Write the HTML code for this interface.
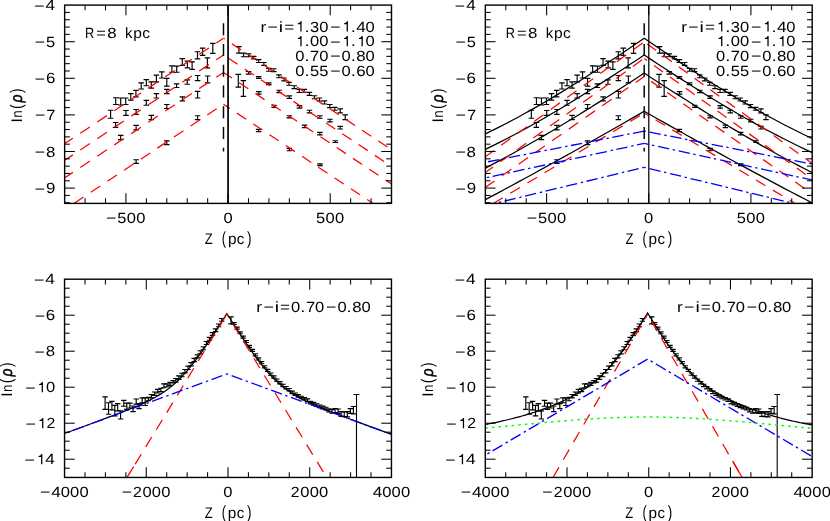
<!DOCTYPE html>
<html><head><meta charset="utf-8"><title>fig</title><style>html,body{margin:0;padding:0;background:#fff}svg{display:block;will-change:transform;transform:translateZ(0)}text{font-family:"Liberation Sans",sans-serif;fill:#000}</style></head><body>
<svg width="830" height="521" viewBox="0 0 830 521" style="display:block;background:#fff" text-rendering="geometricPrecision">
<rect width="830" height="521" fill="#fff"/>
<defs>
<clipPath id="cp1"><rect x="64.65" y="5.10" width="326.85" height="198.30"/></clipPath>
<clipPath id="cp2"><rect x="485.35" y="5.10" width="326.85" height="198.30"/></clipPath>
<clipPath id="cp3"><rect x="64.55" y="279.20" width="326.90" height="198.25"/></clipPath>
<clipPath id="cp4"><rect x="485.30" y="279.20" width="326.85" height="198.25"/></clipPath>
</defs>
<path d="M107.85,110.20H113.35M107.85,118.20H113.35M110.60,110.20V118.20" fill="none" stroke="#000" stroke-width="1.15"/>
<path d="M112.95,97.70H118.45M112.95,104.50H118.45M115.70,97.70V104.50" fill="none" stroke="#000" stroke-width="1.15"/>
<path d="M117.95,98.00H123.45M117.95,105.00H123.45M120.70,98.00V105.00" fill="none" stroke="#000" stroke-width="1.15"/>
<path d="M122.95,98.00H128.45M122.95,104.50H128.45M125.70,98.00V104.50" fill="none" stroke="#000" stroke-width="1.15"/>
<path d="M128.05,93.60H133.55M128.05,100.10H133.55M130.80,93.60V100.10" fill="none" stroke="#000" stroke-width="1.15"/>
<path d="M133.15,90.40H138.65M133.15,96.80H138.65M135.90,90.40V96.80" fill="none" stroke="#000" stroke-width="1.15"/>
<path d="M138.45,82.80H143.95M138.45,89.00H143.95M141.20,82.80V89.00" fill="none" stroke="#000" stroke-width="1.15"/>
<path d="M143.55,79.60H149.05M143.55,85.70H149.05M146.30,79.60V85.70" fill="none" stroke="#000" stroke-width="1.15"/>
<path d="M148.55,81.80H154.05M148.55,88.10H154.05M151.30,81.80V88.10" fill="none" stroke="#000" stroke-width="1.15"/>
<path d="M153.65,75.10H159.15M153.65,81.80H159.15M156.40,75.10V81.80" fill="none" stroke="#000" stroke-width="1.15"/>
<path d="M159.05,71.90H164.55M159.05,78.00H164.55M161.80,71.90V78.00" fill="none" stroke="#000" stroke-width="1.15"/>
<path d="M164.05,78.40H169.55M164.05,86.10H169.55M166.80,78.40V86.10" fill="none" stroke="#000" stroke-width="1.15"/>
<path d="M169.15,65.90H174.65M169.15,72.20H174.65M171.90,65.90V72.20" fill="none" stroke="#000" stroke-width="1.15"/>
<path d="M173.95,66.10H179.45M173.95,72.20H179.45M176.70,66.10V72.20" fill="none" stroke="#000" stroke-width="1.15"/>
<path d="M179.55,58.60H185.05M179.55,65.40H185.05M182.30,58.60V65.40" fill="none" stroke="#000" stroke-width="1.15"/>
<path d="M184.65,61.10H190.15M184.65,67.90H190.15M187.40,61.10V67.90" fill="none" stroke="#000" stroke-width="1.15"/>
<path d="M189.35,61.80H194.85M189.35,69.30H194.85M192.10,61.80V69.30" fill="none" stroke="#000" stroke-width="1.15"/>
<path d="M194.75,51.70H200.25M194.75,58.90H200.25M197.50,51.70V58.90" fill="none" stroke="#000" stroke-width="1.15"/>
<path d="M199.85,48.10H205.35M199.85,55.30H205.35M202.60,48.10V55.30" fill="none" stroke="#000" stroke-width="1.15"/>
<path d="M204.65,57.80H210.15M204.65,67.90H210.15M207.40,57.80V67.90" fill="none" stroke="#000" stroke-width="1.15"/>
<path d="M210.05,43.30H215.55M210.05,53.40H215.55M212.80,43.30V53.40" fill="none" stroke="#000" stroke-width="1.15"/>
<path d="M112.85,122.50H118.35M112.85,127.30H118.35M115.60,122.50V127.30" fill="none" stroke="#000" stroke-width="1.15"/>
<path d="M123.25,110.50H128.75M123.25,115.30H128.75M126.00,110.50V115.30" fill="none" stroke="#000" stroke-width="1.15"/>
<path d="M133.35,109.50H138.85M133.35,114.30H138.85M136.10,109.50V114.30" fill="none" stroke="#000" stroke-width="1.15"/>
<path d="M143.55,100.40H149.05M143.55,105.20H149.05M146.30,100.40V105.20" fill="none" stroke="#000" stroke-width="1.15"/>
<path d="M153.65,93.60H159.15M153.65,98.00H159.15M156.40,93.60V98.00" fill="none" stroke="#000" stroke-width="1.15"/>
<path d="M164.05,89.30H169.55M164.05,93.60H169.55M166.80,89.30V93.60" fill="none" stroke="#000" stroke-width="1.15"/>
<path d="M173.85,83.80H179.35M173.85,87.50H179.35M176.60,83.80V87.50" fill="none" stroke="#000" stroke-width="1.15"/>
<path d="M184.45,79.90H189.95M184.45,84.20H189.95M187.20,79.90V84.20" fill="none" stroke="#000" stroke-width="1.15"/>
<path d="M194.85,75.50H200.35M194.85,80.60H200.35M197.60,75.50V80.60" fill="none" stroke="#000" stroke-width="1.15"/>
<path d="M204.85,76.00H210.35M204.85,82.80H210.35M207.60,76.00V82.80" fill="none" stroke="#000" stroke-width="1.15"/>
<path d="M117.95,135.30H123.45M117.95,139.60H123.45M120.70,135.30V139.60" fill="none" stroke="#000" stroke-width="1.15"/>
<path d="M133.35,125.40H138.85M133.35,129.80H138.85M136.10,125.40V129.80" fill="none" stroke="#000" stroke-width="1.15"/>
<path d="M148.55,115.30H154.05M148.55,119.60H154.05M151.30,115.30V119.60" fill="none" stroke="#000" stroke-width="1.15"/>
<path d="M164.05,104.50H169.55M164.05,108.50H169.55M166.80,104.50V108.50" fill="none" stroke="#000" stroke-width="1.15"/>
<path d="M179.65,96.90H185.15M179.65,100.80H185.15M182.40,96.90V100.80" fill="none" stroke="#000" stroke-width="1.15"/>
<path d="M194.85,91.40H200.35M194.85,98.00H200.35M197.60,91.40V98.00" fill="none" stroke="#000" stroke-width="1.15"/>
<path d="M133.35,159.70H138.85M133.35,163.40H138.85M136.10,159.70V163.40" fill="none" stroke="#000" stroke-width="1.15"/>
<path d="M164.05,140.90H169.55M164.05,144.60H169.55M166.80,140.90V144.60" fill="none" stroke="#000" stroke-width="1.15"/>
<path d="M194.85,115.70H200.35M194.85,119.60H200.35M197.60,115.70V119.60" fill="none" stroke="#000" stroke-width="1.15"/>
<path d="M236.15,46.60H241.65M236.15,53.10H241.65M238.90,46.60V53.10" fill="none" stroke="#000" stroke-width="1.15"/>
<path d="M240.85,53.10H246.35M240.85,56.70H246.35M243.60,53.10V56.70" fill="none" stroke="#000" stroke-width="1.15"/>
<path d="M245.75,53.90H251.25M245.75,56.70H251.25M248.50,53.90V56.70" fill="none" stroke="#000" stroke-width="1.15"/>
<path d="M250.95,56.30H256.45M250.95,58.90H256.45M253.70,56.30V58.90" fill="none" stroke="#000" stroke-width="1.15"/>
<path d="M255.95,59.60H261.45M255.95,62.50H261.45M258.70,59.60V62.50" fill="none" stroke="#000" stroke-width="1.15"/>
<path d="M261.15,62.50H266.65M261.15,65.40H266.65M263.90,62.50V65.40" fill="none" stroke="#000" stroke-width="1.15"/>
<path d="M266.05,68.30H271.55M266.05,71.20H271.55M268.80,68.30V71.20" fill="none" stroke="#000" stroke-width="1.15"/>
<path d="M271.05,68.70H276.55M271.05,71.60H276.55M273.80,68.70V71.60" fill="none" stroke="#000" stroke-width="1.15"/>
<path d="M276.15,74.80H281.65M276.15,77.70H281.65M278.90,74.80V77.70" fill="none" stroke="#000" stroke-width="1.15"/>
<path d="M281.25,78.00H286.75M281.25,80.90H286.75M284.00,78.00V80.90" fill="none" stroke="#000" stroke-width="1.15"/>
<path d="M286.25,82.30H291.75M286.25,85.20H291.75M289.00,82.30V85.20" fill="none" stroke="#000" stroke-width="1.15"/>
<path d="M291.45,85.70H296.95M291.45,88.60H296.95M294.20,85.70V88.60" fill="none" stroke="#000" stroke-width="1.15"/>
<path d="M296.55,89.30H302.05M296.55,92.50H302.05M299.30,89.30V92.50" fill="none" stroke="#000" stroke-width="1.15"/>
<path d="M301.45,89.30H306.95M301.45,92.20H306.95M304.20,89.30V92.20" fill="none" stroke="#000" stroke-width="1.15"/>
<path d="M306.65,92.40H312.15M306.65,95.40H312.15M309.40,92.40V95.40" fill="none" stroke="#000" stroke-width="1.15"/>
<path d="M311.75,95.70H317.25M311.75,98.70H317.25M314.50,95.70V98.70" fill="none" stroke="#000" stroke-width="1.15"/>
<path d="M316.75,98.00H322.25M316.75,101.00H322.25M319.50,98.00V101.00" fill="none" stroke="#000" stroke-width="1.15"/>
<path d="M321.75,100.80H327.25M321.75,104.00H327.25M324.50,100.80V104.00" fill="none" stroke="#000" stroke-width="1.15"/>
<path d="M327.05,104.50H332.55M327.05,107.60H332.55M329.80,104.50V107.60" fill="none" stroke="#000" stroke-width="1.15"/>
<path d="M332.05,107.30H337.55M332.05,110.20H337.55M334.80,107.30V110.20" fill="none" stroke="#000" stroke-width="1.15"/>
<path d="M337.45,108.80H342.95M337.45,112.80H342.95M340.20,108.80V112.80" fill="none" stroke="#000" stroke-width="1.15"/>
<path d="M342.45,114.90H347.95M342.45,119.60H347.95M345.20,114.90V119.60" fill="none" stroke="#000" stroke-width="1.15"/>
<path d="M235.55,74.30H241.05M235.55,87.10H241.05M238.30,74.30V87.10" fill="none" stroke="#000" stroke-width="1.15"/>
<path d="M240.65,80.60H246.15M240.65,96.30H246.15M243.40,80.60V96.30" fill="none" stroke="#000" stroke-width="1.15"/>
<path d="M245.75,71.50H251.25M245.75,74.10H251.25M248.50,71.50V74.10" fill="none" stroke="#000" stroke-width="1.15"/>
<path d="M255.95,76.60H261.45M255.95,78.40H261.45M258.70,76.60V78.40" fill="none" stroke="#000" stroke-width="1.15"/>
<path d="M266.05,82.80H271.55M266.05,84.60H271.55M268.80,82.80V84.60" fill="none" stroke="#000" stroke-width="1.15"/>
<path d="M276.35,90.20H281.85M276.35,92.60H281.85M279.10,90.20V92.60" fill="none" stroke="#000" stroke-width="1.15"/>
<path d="M286.55,95.80H292.05M286.55,98.40H292.05M289.30,95.80V98.40" fill="none" stroke="#000" stroke-width="1.15"/>
<path d="M296.65,105.60H302.15M296.65,108.10H302.15M299.40,105.60V108.10" fill="none" stroke="#000" stroke-width="1.15"/>
<path d="M306.75,110.20H312.25M306.75,112.80H312.25M309.50,110.20V112.80" fill="none" stroke="#000" stroke-width="1.15"/>
<path d="M317.15,115.70H322.65M317.15,118.20H322.65M319.90,115.70V118.20" fill="none" stroke="#000" stroke-width="1.15"/>
<path d="M327.25,119.20H332.75M327.25,121.80H332.75M330.00,119.20V121.80" fill="none" stroke="#000" stroke-width="1.15"/>
<path d="M337.45,126.40H342.95M337.45,129.00H342.95M340.20,126.40V129.00" fill="none" stroke="#000" stroke-width="1.15"/>
<path d="M256.05,91.60H261.55M256.05,94.10H261.55M258.80,91.60V94.10" fill="none" stroke="#000" stroke-width="1.15"/>
<path d="M271.35,105.20H276.85M271.35,107.30H276.85M274.10,105.20V107.30" fill="none" stroke="#000" stroke-width="1.15"/>
<path d="M286.55,115.70H292.05M286.55,117.90H292.05M289.30,115.70V117.90" fill="none" stroke="#000" stroke-width="1.15"/>
<path d="M301.85,125.10H307.35M301.85,127.60H307.35M304.60,125.10V127.60" fill="none" stroke="#000" stroke-width="1.15"/>
<path d="M317.15,132.40H322.65M317.15,134.80H322.65M319.90,132.40V134.80" fill="none" stroke="#000" stroke-width="1.15"/>
<path d="M332.55,140.70H338.05M332.55,142.50H338.05M335.30,140.70V142.50" fill="none" stroke="#000" stroke-width="1.15"/>
<path d="M255.85,129.30H261.35M255.85,131.60H261.35M258.60,129.30V131.60" fill="none" stroke="#000" stroke-width="1.15"/>
<path d="M286.55,148.30H292.05M286.55,150.70H292.05M289.30,148.30V150.70" fill="none" stroke="#000" stroke-width="1.15"/>
<path d="M317.25,163.80H322.75M317.25,165.60H322.75M320.00,163.80V165.60" fill="none" stroke="#000" stroke-width="1.15"/>
<path d="M528.60,110.20H534.10M528.60,118.20H534.10M531.35,110.20V118.20" fill="none" stroke="#000" stroke-width="1.15"/>
<path d="M533.70,97.70H539.20M533.70,104.50H539.20M536.45,97.70V104.50" fill="none" stroke="#000" stroke-width="1.15"/>
<path d="M538.70,98.00H544.20M538.70,105.00H544.20M541.45,98.00V105.00" fill="none" stroke="#000" stroke-width="1.15"/>
<path d="M543.70,98.00H549.20M543.70,104.50H549.20M546.45,98.00V104.50" fill="none" stroke="#000" stroke-width="1.15"/>
<path d="M548.80,93.60H554.30M548.80,100.10H554.30M551.55,93.60V100.10" fill="none" stroke="#000" stroke-width="1.15"/>
<path d="M553.90,90.40H559.40M553.90,96.80H559.40M556.65,90.40V96.80" fill="none" stroke="#000" stroke-width="1.15"/>
<path d="M559.20,82.80H564.70M559.20,89.00H564.70M561.95,82.80V89.00" fill="none" stroke="#000" stroke-width="1.15"/>
<path d="M564.30,79.60H569.80M564.30,85.70H569.80M567.05,79.60V85.70" fill="none" stroke="#000" stroke-width="1.15"/>
<path d="M569.30,81.80H574.80M569.30,88.10H574.80M572.05,81.80V88.10" fill="none" stroke="#000" stroke-width="1.15"/>
<path d="M574.40,75.10H579.90M574.40,81.80H579.90M577.15,75.10V81.80" fill="none" stroke="#000" stroke-width="1.15"/>
<path d="M579.80,71.90H585.30M579.80,78.00H585.30M582.55,71.90V78.00" fill="none" stroke="#000" stroke-width="1.15"/>
<path d="M584.80,78.40H590.30M584.80,86.10H590.30M587.55,78.40V86.10" fill="none" stroke="#000" stroke-width="1.15"/>
<path d="M589.90,65.90H595.40M589.90,72.20H595.40M592.65,65.90V72.20" fill="none" stroke="#000" stroke-width="1.15"/>
<path d="M594.70,66.10H600.20M594.70,72.20H600.20M597.45,66.10V72.20" fill="none" stroke="#000" stroke-width="1.15"/>
<path d="M600.30,58.60H605.80M600.30,65.40H605.80M603.05,58.60V65.40" fill="none" stroke="#000" stroke-width="1.15"/>
<path d="M605.40,61.10H610.90M605.40,67.90H610.90M608.15,61.10V67.90" fill="none" stroke="#000" stroke-width="1.15"/>
<path d="M610.10,61.80H615.60M610.10,69.30H615.60M612.85,61.80V69.30" fill="none" stroke="#000" stroke-width="1.15"/>
<path d="M615.50,51.70H621.00M615.50,58.90H621.00M618.25,51.70V58.90" fill="none" stroke="#000" stroke-width="1.15"/>
<path d="M620.60,48.10H626.10M620.60,55.30H626.10M623.35,48.10V55.30" fill="none" stroke="#000" stroke-width="1.15"/>
<path d="M625.40,57.80H630.90M625.40,67.90H630.90M628.15,57.80V67.90" fill="none" stroke="#000" stroke-width="1.15"/>
<path d="M630.80,43.30H636.30M630.80,53.40H636.30M633.55,43.30V53.40" fill="none" stroke="#000" stroke-width="1.15"/>
<path d="M533.60,122.50H539.10M533.60,127.30H539.10M536.35,122.50V127.30" fill="none" stroke="#000" stroke-width="1.15"/>
<path d="M544.00,110.50H549.50M544.00,115.30H549.50M546.75,110.50V115.30" fill="none" stroke="#000" stroke-width="1.15"/>
<path d="M554.10,109.50H559.60M554.10,114.30H559.60M556.85,109.50V114.30" fill="none" stroke="#000" stroke-width="1.15"/>
<path d="M564.30,100.40H569.80M564.30,105.20H569.80M567.05,100.40V105.20" fill="none" stroke="#000" stroke-width="1.15"/>
<path d="M574.40,93.60H579.90M574.40,98.00H579.90M577.15,93.60V98.00" fill="none" stroke="#000" stroke-width="1.15"/>
<path d="M584.80,89.30H590.30M584.80,93.60H590.30M587.55,89.30V93.60" fill="none" stroke="#000" stroke-width="1.15"/>
<path d="M594.60,83.80H600.10M594.60,87.50H600.10M597.35,83.80V87.50" fill="none" stroke="#000" stroke-width="1.15"/>
<path d="M605.20,79.90H610.70M605.20,84.20H610.70M607.95,79.90V84.20" fill="none" stroke="#000" stroke-width="1.15"/>
<path d="M615.60,75.50H621.10M615.60,80.60H621.10M618.35,75.50V80.60" fill="none" stroke="#000" stroke-width="1.15"/>
<path d="M625.60,76.00H631.10M625.60,82.80H631.10M628.35,76.00V82.80" fill="none" stroke="#000" stroke-width="1.15"/>
<path d="M538.70,135.30H544.20M538.70,139.60H544.20M541.45,135.30V139.60" fill="none" stroke="#000" stroke-width="1.15"/>
<path d="M554.10,125.40H559.60M554.10,129.80H559.60M556.85,125.40V129.80" fill="none" stroke="#000" stroke-width="1.15"/>
<path d="M569.30,115.30H574.80M569.30,119.60H574.80M572.05,115.30V119.60" fill="none" stroke="#000" stroke-width="1.15"/>
<path d="M584.80,104.50H590.30M584.80,108.50H590.30M587.55,104.50V108.50" fill="none" stroke="#000" stroke-width="1.15"/>
<path d="M600.40,96.90H605.90M600.40,100.80H605.90M603.15,96.90V100.80" fill="none" stroke="#000" stroke-width="1.15"/>
<path d="M615.60,91.40H621.10M615.60,98.00H621.10M618.35,91.40V98.00" fill="none" stroke="#000" stroke-width="1.15"/>
<path d="M554.10,159.70H559.60M554.10,163.40H559.60M556.85,159.70V163.40" fill="none" stroke="#000" stroke-width="1.15"/>
<path d="M584.80,140.90H590.30M584.80,144.60H590.30M587.55,140.90V144.60" fill="none" stroke="#000" stroke-width="1.15"/>
<path d="M615.60,115.70H621.10M615.60,119.60H621.10M618.35,115.70V119.60" fill="none" stroke="#000" stroke-width="1.15"/>
<path d="M656.90,46.60H662.40M656.90,53.10H662.40M659.65,46.60V53.10" fill="none" stroke="#000" stroke-width="1.15"/>
<path d="M661.60,53.10H667.10M661.60,56.70H667.10M664.35,53.10V56.70" fill="none" stroke="#000" stroke-width="1.15"/>
<path d="M666.50,53.90H672.00M666.50,56.70H672.00M669.25,53.90V56.70" fill="none" stroke="#000" stroke-width="1.15"/>
<path d="M671.70,56.30H677.20M671.70,58.90H677.20M674.45,56.30V58.90" fill="none" stroke="#000" stroke-width="1.15"/>
<path d="M676.70,59.60H682.20M676.70,62.50H682.20M679.45,59.60V62.50" fill="none" stroke="#000" stroke-width="1.15"/>
<path d="M681.90,62.50H687.40M681.90,65.40H687.40M684.65,62.50V65.40" fill="none" stroke="#000" stroke-width="1.15"/>
<path d="M686.80,68.30H692.30M686.80,71.20H692.30M689.55,68.30V71.20" fill="none" stroke="#000" stroke-width="1.15"/>
<path d="M691.80,68.70H697.30M691.80,71.60H697.30M694.55,68.70V71.60" fill="none" stroke="#000" stroke-width="1.15"/>
<path d="M696.90,74.80H702.40M696.90,77.70H702.40M699.65,74.80V77.70" fill="none" stroke="#000" stroke-width="1.15"/>
<path d="M702.00,78.00H707.50M702.00,80.90H707.50M704.75,78.00V80.90" fill="none" stroke="#000" stroke-width="1.15"/>
<path d="M707.00,82.30H712.50M707.00,85.20H712.50M709.75,82.30V85.20" fill="none" stroke="#000" stroke-width="1.15"/>
<path d="M712.20,85.70H717.70M712.20,88.60H717.70M714.95,85.70V88.60" fill="none" stroke="#000" stroke-width="1.15"/>
<path d="M717.30,89.30H722.80M717.30,92.50H722.80M720.05,89.30V92.50" fill="none" stroke="#000" stroke-width="1.15"/>
<path d="M722.20,89.30H727.70M722.20,92.20H727.70M724.95,89.30V92.20" fill="none" stroke="#000" stroke-width="1.15"/>
<path d="M727.40,92.40H732.90M727.40,95.40H732.90M730.15,92.40V95.40" fill="none" stroke="#000" stroke-width="1.15"/>
<path d="M732.50,95.70H738.00M732.50,98.70H738.00M735.25,95.70V98.70" fill="none" stroke="#000" stroke-width="1.15"/>
<path d="M737.50,98.00H743.00M737.50,101.00H743.00M740.25,98.00V101.00" fill="none" stroke="#000" stroke-width="1.15"/>
<path d="M742.50,100.80H748.00M742.50,104.00H748.00M745.25,100.80V104.00" fill="none" stroke="#000" stroke-width="1.15"/>
<path d="M747.80,104.50H753.30M747.80,107.60H753.30M750.55,104.50V107.60" fill="none" stroke="#000" stroke-width="1.15"/>
<path d="M752.80,107.30H758.30M752.80,110.20H758.30M755.55,107.30V110.20" fill="none" stroke="#000" stroke-width="1.15"/>
<path d="M758.20,108.80H763.70M758.20,112.80H763.70M760.95,108.80V112.80" fill="none" stroke="#000" stroke-width="1.15"/>
<path d="M763.20,114.90H768.70M763.20,119.60H768.70M765.95,114.90V119.60" fill="none" stroke="#000" stroke-width="1.15"/>
<path d="M656.30,74.30H661.80M656.30,87.10H661.80M659.05,74.30V87.10" fill="none" stroke="#000" stroke-width="1.15"/>
<path d="M661.40,80.60H666.90M661.40,96.30H666.90M664.15,80.60V96.30" fill="none" stroke="#000" stroke-width="1.15"/>
<path d="M666.50,71.50H672.00M666.50,74.10H672.00M669.25,71.50V74.10" fill="none" stroke="#000" stroke-width="1.15"/>
<path d="M676.70,76.60H682.20M676.70,78.40H682.20M679.45,76.60V78.40" fill="none" stroke="#000" stroke-width="1.15"/>
<path d="M686.80,82.80H692.30M686.80,84.60H692.30M689.55,82.80V84.60" fill="none" stroke="#000" stroke-width="1.15"/>
<path d="M697.10,90.20H702.60M697.10,92.60H702.60M699.85,90.20V92.60" fill="none" stroke="#000" stroke-width="1.15"/>
<path d="M707.30,95.80H712.80M707.30,98.40H712.80M710.05,95.80V98.40" fill="none" stroke="#000" stroke-width="1.15"/>
<path d="M717.40,105.60H722.90M717.40,108.10H722.90M720.15,105.60V108.10" fill="none" stroke="#000" stroke-width="1.15"/>
<path d="M727.50,110.20H733.00M727.50,112.80H733.00M730.25,110.20V112.80" fill="none" stroke="#000" stroke-width="1.15"/>
<path d="M737.90,115.70H743.40M737.90,118.20H743.40M740.65,115.70V118.20" fill="none" stroke="#000" stroke-width="1.15"/>
<path d="M748.00,119.20H753.50M748.00,121.80H753.50M750.75,119.20V121.80" fill="none" stroke="#000" stroke-width="1.15"/>
<path d="M758.20,126.40H763.70M758.20,129.00H763.70M760.95,126.40V129.00" fill="none" stroke="#000" stroke-width="1.15"/>
<path d="M676.80,91.60H682.30M676.80,94.10H682.30M679.55,91.60V94.10" fill="none" stroke="#000" stroke-width="1.15"/>
<path d="M692.10,105.20H697.60M692.10,107.30H697.60M694.85,105.20V107.30" fill="none" stroke="#000" stroke-width="1.15"/>
<path d="M707.30,115.70H712.80M707.30,117.90H712.80M710.05,115.70V117.90" fill="none" stroke="#000" stroke-width="1.15"/>
<path d="M722.60,125.10H728.10M722.60,127.60H728.10M725.35,125.10V127.60" fill="none" stroke="#000" stroke-width="1.15"/>
<path d="M737.90,132.40H743.40M737.90,134.80H743.40M740.65,132.40V134.80" fill="none" stroke="#000" stroke-width="1.15"/>
<path d="M753.30,140.70H758.80M753.30,142.50H758.80M756.05,140.70V142.50" fill="none" stroke="#000" stroke-width="1.15"/>
<path d="M676.60,129.30H682.10M676.60,131.60H682.10M679.35,129.30V131.60" fill="none" stroke="#000" stroke-width="1.15"/>
<path d="M707.30,148.30H712.80M707.30,150.70H712.80M710.05,148.30V150.70" fill="none" stroke="#000" stroke-width="1.15"/>
<path d="M738.00,163.80H743.50M738.00,165.60H743.50M740.75,163.80V165.60" fill="none" stroke="#000" stroke-width="1.15"/>
<path d="M102.40,396.90H107.80M102.40,409.40H107.80M105.10,396.90V409.40" fill="none" stroke="#000" stroke-width="1.15"/>
<path d="M105.80,402.70H111.20M105.80,414.20H111.20M108.50,402.70V414.20" fill="none" stroke="#000" stroke-width="1.15"/>
<path d="M109.20,401.40H114.60M109.20,409.90H114.60M111.90,401.40V409.90" fill="none" stroke="#000" stroke-width="1.15"/>
<path d="M112.10,405.30H117.50M112.10,415.90H117.50M114.80,405.30V415.90" fill="none" stroke="#000" stroke-width="1.15"/>
<path d="M115.00,403.60H120.40M115.00,410.80H120.40M117.70,403.60V410.80" fill="none" stroke="#000" stroke-width="1.15"/>
<path d="M117.90,410.80H123.30M117.90,419.00H123.30M120.60,410.80V419.00" fill="none" stroke="#000" stroke-width="1.15"/>
<path d="M121.10,400.40H126.50M121.10,406.20H126.50M123.80,400.40V406.20" fill="none" stroke="#000" stroke-width="1.15"/>
<path d="M124.10,403.10H129.50M124.10,409.40H129.50M126.80,403.10V409.40" fill="none" stroke="#000" stroke-width="1.15"/>
<path d="M127.20,403.10H132.60M127.20,408.00H132.60M129.90,403.10V408.00" fill="none" stroke="#000" stroke-width="1.15"/>
<path d="M130.30,406.00H135.70M130.30,411.60H135.70M133.00,406.00V411.60" fill="none" stroke="#000" stroke-width="1.15"/>
<path d="M133.50,399.00H138.90M133.50,404.10H138.90M136.20,399.00V404.10" fill="none" stroke="#000" stroke-width="1.15"/>
<path d="M136.40,403.60H141.80M136.40,408.60H141.80M139.10,403.60V408.60" fill="none" stroke="#000" stroke-width="1.15"/>
<path d="M139.50,397.80H144.90M139.50,402.70H144.90M142.20,397.80V402.70" fill="none" stroke="#000" stroke-width="1.15"/>
<path d="M142.50,397.80H147.90M142.50,405.50H147.90M145.20,397.80V405.50" fill="none" stroke="#000" stroke-width="1.15"/>
<path d="M145.70,397.30H151.10M145.70,400.70H151.10M148.40,397.30V400.70" fill="none" stroke="#000" stroke-width="1.15"/>
<path d="M148.70,394.50H154.10M148.70,397.80H154.10M151.40,394.50V397.80" fill="none" stroke="#000" stroke-width="1.15"/>
<path d="M151.90,392.00H157.30M151.90,395.40H157.30M154.60,392.00V395.40" fill="none" stroke="#000" stroke-width="1.15"/>
<path d="M155.00,389.30H160.40M155.00,393.00H160.40M157.70,389.30V393.00" fill="none" stroke="#000" stroke-width="1.15"/>
<path d="M158.10,388.20H163.50M158.10,391.60H163.50M160.80,388.20V391.60" fill="none" stroke="#000" stroke-width="1.15"/>
<path d="M161.20,383.90H166.60M161.20,387.70H166.60M163.90,383.90V387.70" fill="none" stroke="#000" stroke-width="1.15"/>
<path d="M164.30,383.90H169.70M164.30,386.70H169.70M167.00,383.90V386.70" fill="none" stroke="#000" stroke-width="1.15"/>
<path d="M167.40,382.40H172.80M167.40,385.30H172.80M170.10,382.40V385.30" fill="none" stroke="#000" stroke-width="1.15"/>
<path d="M170.40,380.50H175.80M170.40,382.90H175.80M173.10,380.50V382.90" fill="none" stroke="#000" stroke-width="1.15"/>
<path d="M173.08,378.54H178.48M173.08,382.13H178.48M175.78,378.54V382.13" fill="none" stroke="#000" stroke-width="1.15"/>
<path d="M176.14,375.86H181.54M176.14,379.39H181.54M178.84,375.86V379.39" fill="none" stroke="#000" stroke-width="1.15"/>
<path d="M179.21,373.28H184.60M179.21,376.75H184.60M181.91,373.28V376.75" fill="none" stroke="#000" stroke-width="1.15"/>
<path d="M182.27,369.51H187.67M182.27,372.91H187.67M184.97,369.51V372.91" fill="none" stroke="#000" stroke-width="1.15"/>
<path d="M185.33,366.13H190.73M185.33,369.48H190.73M188.03,366.13V369.48" fill="none" stroke="#000" stroke-width="1.15"/>
<path d="M188.39,362.60H193.79M188.39,365.89H193.79M191.09,362.60V365.89" fill="none" stroke="#000" stroke-width="1.15"/>
<path d="M191.46,358.32H196.86M191.46,361.55H196.86M194.16,358.32V361.55" fill="none" stroke="#000" stroke-width="1.15"/>
<path d="M194.52,354.75H199.92M194.52,357.92H199.92M197.22,354.75V357.92" fill="none" stroke="#000" stroke-width="1.15"/>
<path d="M197.58,350.78H202.98M197.58,353.89H202.98M200.28,350.78V353.89" fill="none" stroke="#000" stroke-width="1.15"/>
<path d="M200.65,346.73H206.05M200.65,349.79H206.05M203.35,346.73V349.79" fill="none" stroke="#000" stroke-width="1.15"/>
<path d="M203.71,341.54H209.11M203.71,344.54H209.11M206.41,341.54V344.54" fill="none" stroke="#000" stroke-width="1.15"/>
<path d="M206.77,337.34H212.17M206.77,340.29H212.17M209.47,337.34V340.29" fill="none" stroke="#000" stroke-width="1.15"/>
<path d="M209.84,332.55H215.23M209.84,335.44H215.23M212.53,332.55V335.44" fill="none" stroke="#000" stroke-width="1.15"/>
<path d="M212.90,328.81H218.30M212.90,331.64H218.30M215.60,328.81V331.64" fill="none" stroke="#000" stroke-width="1.15"/>
<path d="M215.96,324.01H221.36M215.96,326.79H221.36M218.66,324.01V326.79" fill="none" stroke="#000" stroke-width="1.15"/>
<path d="M219.02,318.52H224.42M219.02,321.24H224.42M221.72,318.52V321.24" fill="none" stroke="#000" stroke-width="1.15"/>
<path d="M231.28,322.67H236.68M231.28,324.53H236.68M233.98,322.67V324.53" fill="none" stroke="#000" stroke-width="1.15"/>
<path d="M234.34,327.17H239.74M234.34,329.06H239.74M237.04,327.17V329.06" fill="none" stroke="#000" stroke-width="1.15"/>
<path d="M237.40,331.83H242.80M237.40,333.75H242.80M240.10,331.83V333.75" fill="none" stroke="#000" stroke-width="1.15"/>
<path d="M240.47,336.10H245.86M240.47,338.05H245.86M243.16,336.10V338.05" fill="none" stroke="#000" stroke-width="1.15"/>
<path d="M243.53,340.54H248.93M243.53,342.52H248.93M246.23,340.54V342.52" fill="none" stroke="#000" stroke-width="1.15"/>
<path d="M246.59,345.42H251.99M246.59,347.43H251.99M249.29,345.42V347.43" fill="none" stroke="#000" stroke-width="1.15"/>
<path d="M249.65,349.40H255.05M249.65,351.44H255.05M252.35,349.40V351.44" fill="none" stroke="#000" stroke-width="1.15"/>
<path d="M252.72,353.74H258.12M252.72,355.81H258.12M255.42,353.74V355.81" fill="none" stroke="#000" stroke-width="1.15"/>
<path d="M255.78,357.87H261.18M255.78,359.97H261.18M258.48,357.87V359.97" fill="none" stroke="#000" stroke-width="1.15"/>
<path d="M258.84,361.64H264.24M258.84,363.77H264.24M261.54,361.64V363.77" fill="none" stroke="#000" stroke-width="1.15"/>
<path d="M261.91,365.75H267.31M261.91,367.91H267.31M264.61,365.75V367.91" fill="none" stroke="#000" stroke-width="1.15"/>
<path d="M264.97,369.30H270.37M264.97,371.49H270.37M267.67,369.30V371.49" fill="none" stroke="#000" stroke-width="1.15"/>
<path d="M268.03,373.00H273.43M268.03,375.22H273.43M270.73,373.00V375.22" fill="none" stroke="#000" stroke-width="1.15"/>
<path d="M271.10,375.91H276.50M271.10,378.16H276.50M273.80,375.91V378.16" fill="none" stroke="#000" stroke-width="1.15"/>
<path d="M274.16,378.97H279.56M274.16,381.25H279.56M276.86,378.97V381.25" fill="none" stroke="#000" stroke-width="1.15"/>
<path d="M277.22,381.61H282.62M277.22,383.92H282.62M279.92,381.61V383.92" fill="none" stroke="#000" stroke-width="1.15"/>
<path d="M280.28,384.29H285.68M280.28,386.63H285.68M282.98,384.29V386.63" fill="none" stroke="#000" stroke-width="1.15"/>
<path d="M283.35,386.49H288.75M283.35,388.86H288.75M286.05,386.49V388.86" fill="none" stroke="#000" stroke-width="1.15"/>
<path d="M286.41,388.54H291.81M286.41,390.94H291.81M289.11,388.54V390.94" fill="none" stroke="#000" stroke-width="1.15"/>
<path d="M289.47,391.14H294.87M289.47,393.57H294.87M292.17,391.14V393.57" fill="none" stroke="#000" stroke-width="1.15"/>
<path d="M292.54,393.03H297.94M292.54,395.49H297.94M295.24,393.03V395.49" fill="none" stroke="#000" stroke-width="1.15"/>
<path d="M295.60,394.66H301.00M295.60,397.15H301.00M298.30,394.66V397.15" fill="none" stroke="#000" stroke-width="1.15"/>
<path d="M298.66,396.21H304.06M298.66,398.73H304.06M301.36,396.21V398.73" fill="none" stroke="#000" stroke-width="1.15"/>
<path d="M301.73,397.46H307.12M301.73,400.01H307.12M304.43,397.46V400.01" fill="none" stroke="#000" stroke-width="1.15"/>
<path d="M304.79,398.87H310.19M304.79,401.45H310.19M307.49,398.87V401.45" fill="none" stroke="#000" stroke-width="1.15"/>
<path d="M307.85,401.20H313.25M307.85,403.80H313.25M310.55,401.20V403.80" fill="none" stroke="#000" stroke-width="1.15"/>
<path d="M310.91,402.30H316.31M310.91,404.90H316.31M313.61,402.30V404.90" fill="none" stroke="#000" stroke-width="1.15"/>
<path d="M313.98,403.70H319.38M313.98,406.30H319.38M316.68,403.70V406.30" fill="none" stroke="#000" stroke-width="1.15"/>
<path d="M317.04,405.00H322.44M317.04,407.60H322.44M319.74,405.00V407.60" fill="none" stroke="#000" stroke-width="1.15"/>
<path d="M320.10,406.10H325.50M320.10,408.90H325.50M322.80,406.10V408.90" fill="none" stroke="#000" stroke-width="1.15"/>
<path d="M323.17,407.20H328.57M323.17,410.00H328.57M325.87,407.20V410.00" fill="none" stroke="#000" stroke-width="1.15"/>
<path d="M326.23,408.90H331.63M326.23,411.90H331.63M328.93,408.90V411.90" fill="none" stroke="#000" stroke-width="1.15"/>
<path d="M329.29,409.60H334.69M329.29,413.20H334.69M331.99,409.60V413.20" fill="none" stroke="#000" stroke-width="1.15"/>
<path d="M332.36,408.60H337.75M332.36,412.60H337.75M335.06,408.60V412.60" fill="none" stroke="#000" stroke-width="1.15"/>
<path d="M335.42,409.00H340.82M335.42,413.40H340.82M338.12,409.00V413.40" fill="none" stroke="#000" stroke-width="1.15"/>
<path d="M338.48,411.60H343.88M338.48,416.40H343.88M341.18,411.60V416.40" fill="none" stroke="#000" stroke-width="1.15"/>
<path d="M341.54,411.80H346.94M341.54,416.60H346.94M344.24,411.80V416.60" fill="none" stroke="#000" stroke-width="1.15"/>
<path d="M344.61,411.60H350.01M344.61,416.80H350.01M347.31,411.60V416.80" fill="none" stroke="#000" stroke-width="1.15"/>
<path d="M347.67,408.60H353.07M347.67,413.40H353.07M350.37,408.60V413.40" fill="none" stroke="#000" stroke-width="1.15"/>
<path d="M350.73,406.50H356.13M350.73,413.90H356.13M353.43,406.50V413.90" fill="none" stroke="#000" stroke-width="1.15"/>
<path d="M228.30,316.90H233.70M228.30,323.90H233.70M231.00,316.90V323.90" fill="none" stroke="#000" stroke-width="1.15"/>
<path d="M353.60,394.50H359.40M356.50,394.50V477.30" fill="none" stroke="#000" stroke-width="1.1"/>
<path d="M523.10,396.90H528.50M523.10,409.40H528.50M525.80,396.90V409.40" fill="none" stroke="#000" stroke-width="1.15"/>
<path d="M526.50,402.70H531.90M526.50,414.20H531.90M529.20,402.70V414.20" fill="none" stroke="#000" stroke-width="1.15"/>
<path d="M529.90,401.40H535.30M529.90,409.90H535.30M532.60,401.40V409.90" fill="none" stroke="#000" stroke-width="1.15"/>
<path d="M532.80,405.30H538.20M532.80,415.90H538.20M535.50,405.30V415.90" fill="none" stroke="#000" stroke-width="1.15"/>
<path d="M535.70,403.60H541.10M535.70,410.80H541.10M538.40,403.60V410.80" fill="none" stroke="#000" stroke-width="1.15"/>
<path d="M538.60,410.80H544.00M538.60,419.00H544.00M541.30,410.80V419.00" fill="none" stroke="#000" stroke-width="1.15"/>
<path d="M541.80,400.40H547.20M541.80,406.20H547.20M544.50,400.40V406.20" fill="none" stroke="#000" stroke-width="1.15"/>
<path d="M544.80,403.10H550.20M544.80,409.40H550.20M547.50,403.10V409.40" fill="none" stroke="#000" stroke-width="1.15"/>
<path d="M547.90,403.10H553.30M547.90,408.00H553.30M550.60,403.10V408.00" fill="none" stroke="#000" stroke-width="1.15"/>
<path d="M551.00,406.00H556.40M551.00,411.60H556.40M553.70,406.00V411.60" fill="none" stroke="#000" stroke-width="1.15"/>
<path d="M554.20,399.00H559.60M554.20,404.10H559.60M556.90,399.00V404.10" fill="none" stroke="#000" stroke-width="1.15"/>
<path d="M557.10,403.60H562.50M557.10,408.60H562.50M559.80,403.60V408.60" fill="none" stroke="#000" stroke-width="1.15"/>
<path d="M560.20,397.80H565.60M560.20,402.70H565.60M562.90,397.80V402.70" fill="none" stroke="#000" stroke-width="1.15"/>
<path d="M563.20,397.80H568.60M563.20,405.50H568.60M565.90,397.80V405.50" fill="none" stroke="#000" stroke-width="1.15"/>
<path d="M566.40,397.30H571.80M566.40,400.70H571.80M569.10,397.30V400.70" fill="none" stroke="#000" stroke-width="1.15"/>
<path d="M569.40,394.50H574.80M569.40,397.80H574.80M572.10,394.50V397.80" fill="none" stroke="#000" stroke-width="1.15"/>
<path d="M572.60,392.00H578.00M572.60,395.40H578.00M575.30,392.00V395.40" fill="none" stroke="#000" stroke-width="1.15"/>
<path d="M575.70,389.30H581.10M575.70,393.00H581.10M578.40,389.30V393.00" fill="none" stroke="#000" stroke-width="1.15"/>
<path d="M578.80,388.20H584.20M578.80,391.60H584.20M581.50,388.20V391.60" fill="none" stroke="#000" stroke-width="1.15"/>
<path d="M581.90,383.90H587.30M581.90,387.70H587.30M584.60,383.90V387.70" fill="none" stroke="#000" stroke-width="1.15"/>
<path d="M585.00,383.90H590.40M585.00,386.70H590.40M587.70,383.90V386.70" fill="none" stroke="#000" stroke-width="1.15"/>
<path d="M588.10,382.40H593.50M588.10,385.30H593.50M590.80,382.40V385.30" fill="none" stroke="#000" stroke-width="1.15"/>
<path d="M591.10,380.50H596.50M591.10,382.90H596.50M593.80,380.50V382.90" fill="none" stroke="#000" stroke-width="1.15"/>
<path d="M593.78,378.54H599.18M593.78,382.13H599.18M596.48,378.54V382.13" fill="none" stroke="#000" stroke-width="1.15"/>
<path d="M596.84,375.86H602.24M596.84,379.39H602.24M599.54,375.86V379.39" fill="none" stroke="#000" stroke-width="1.15"/>
<path d="M599.90,373.28H605.31M599.90,376.75H605.31M602.61,373.28V376.75" fill="none" stroke="#000" stroke-width="1.15"/>
<path d="M602.97,369.51H608.37M602.97,372.91H608.37M605.67,369.51V372.91" fill="none" stroke="#000" stroke-width="1.15"/>
<path d="M606.03,366.13H611.43M606.03,369.48H611.43M608.73,366.13V369.48" fill="none" stroke="#000" stroke-width="1.15"/>
<path d="M609.09,362.60H614.49M609.09,365.89H614.49M611.79,362.60V365.89" fill="none" stroke="#000" stroke-width="1.15"/>
<path d="M612.16,358.32H617.56M612.16,361.55H617.56M614.86,358.32V361.55" fill="none" stroke="#000" stroke-width="1.15"/>
<path d="M615.22,354.75H620.62M615.22,357.92H620.62M617.92,354.75V357.92" fill="none" stroke="#000" stroke-width="1.15"/>
<path d="M618.28,350.78H623.68M618.28,353.89H623.68M620.98,350.78V353.89" fill="none" stroke="#000" stroke-width="1.15"/>
<path d="M621.35,346.73H626.75M621.35,349.79H626.75M624.05,346.73V349.79" fill="none" stroke="#000" stroke-width="1.15"/>
<path d="M624.41,341.54H629.81M624.41,344.54H629.81M627.11,341.54V344.54" fill="none" stroke="#000" stroke-width="1.15"/>
<path d="M627.47,337.34H632.87M627.47,340.29H632.87M630.17,337.34V340.29" fill="none" stroke="#000" stroke-width="1.15"/>
<path d="M630.53,332.55H635.94M630.53,335.44H635.94M633.24,332.55V335.44" fill="none" stroke="#000" stroke-width="1.15"/>
<path d="M633.60,328.81H639.00M633.60,331.64H639.00M636.30,328.81V331.64" fill="none" stroke="#000" stroke-width="1.15"/>
<path d="M636.66,324.01H642.06M636.66,326.79H642.06M639.36,324.01V326.79" fill="none" stroke="#000" stroke-width="1.15"/>
<path d="M639.72,318.52H645.12M639.72,321.24H645.12M642.42,318.52V321.24" fill="none" stroke="#000" stroke-width="1.15"/>
<path d="M651.98,322.67H657.38M651.98,324.53H657.38M654.68,322.67V324.53" fill="none" stroke="#000" stroke-width="1.15"/>
<path d="M655.04,327.17H660.44M655.04,329.06H660.44M657.74,327.17V329.06" fill="none" stroke="#000" stroke-width="1.15"/>
<path d="M658.10,331.83H663.50M658.10,333.75H663.50M660.80,331.83V333.75" fill="none" stroke="#000" stroke-width="1.15"/>
<path d="M661.16,336.10H666.57M661.16,338.05H666.57M663.87,336.10V338.05" fill="none" stroke="#000" stroke-width="1.15"/>
<path d="M664.23,340.54H669.63M664.23,342.52H669.63M666.93,340.54V342.52" fill="none" stroke="#000" stroke-width="1.15"/>
<path d="M667.29,345.42H672.69M667.29,347.43H672.69M669.99,345.42V347.43" fill="none" stroke="#000" stroke-width="1.15"/>
<path d="M670.35,349.40H675.75M670.35,351.44H675.75M673.05,349.40V351.44" fill="none" stroke="#000" stroke-width="1.15"/>
<path d="M673.42,353.74H678.82M673.42,355.81H678.82M676.12,353.74V355.81" fill="none" stroke="#000" stroke-width="1.15"/>
<path d="M676.48,357.87H681.88M676.48,359.97H681.88M679.18,357.87V359.97" fill="none" stroke="#000" stroke-width="1.15"/>
<path d="M679.54,361.64H684.94M679.54,363.77H684.94M682.24,361.64V363.77" fill="none" stroke="#000" stroke-width="1.15"/>
<path d="M682.61,365.75H688.01M682.61,367.91H688.01M685.31,365.75V367.91" fill="none" stroke="#000" stroke-width="1.15"/>
<path d="M685.67,369.30H691.07M685.67,371.49H691.07M688.37,369.30V371.49" fill="none" stroke="#000" stroke-width="1.15"/>
<path d="M688.73,373.00H694.13M688.73,375.22H694.13M691.43,373.00V375.22" fill="none" stroke="#000" stroke-width="1.15"/>
<path d="M691.79,375.91H697.20M691.79,378.16H697.20M694.50,375.91V378.16" fill="none" stroke="#000" stroke-width="1.15"/>
<path d="M694.86,378.97H700.26M694.86,381.25H700.26M697.56,378.97V381.25" fill="none" stroke="#000" stroke-width="1.15"/>
<path d="M697.92,381.61H703.32M697.92,383.92H703.32M700.62,381.61V383.92" fill="none" stroke="#000" stroke-width="1.15"/>
<path d="M700.98,384.29H706.38M700.98,386.63H706.38M703.68,384.29V386.63" fill="none" stroke="#000" stroke-width="1.15"/>
<path d="M704.05,386.49H709.45M704.05,388.86H709.45M706.75,386.49V388.86" fill="none" stroke="#000" stroke-width="1.15"/>
<path d="M707.11,388.54H712.51M707.11,390.94H712.51M709.81,388.54V390.94" fill="none" stroke="#000" stroke-width="1.15"/>
<path d="M710.17,391.14H715.57M710.17,393.57H715.57M712.87,391.14V393.57" fill="none" stroke="#000" stroke-width="1.15"/>
<path d="M713.24,393.03H718.64M713.24,395.49H718.64M715.94,393.03V395.49" fill="none" stroke="#000" stroke-width="1.15"/>
<path d="M716.30,394.66H721.70M716.30,397.15H721.70M719.00,394.66V397.15" fill="none" stroke="#000" stroke-width="1.15"/>
<path d="M719.36,396.21H724.76M719.36,398.73H724.76M722.06,396.21V398.73" fill="none" stroke="#000" stroke-width="1.15"/>
<path d="M722.42,397.46H727.83M722.42,400.01H727.83M725.12,397.46V400.01" fill="none" stroke="#000" stroke-width="1.15"/>
<path d="M725.49,398.87H730.89M725.49,401.45H730.89M728.19,398.87V401.45" fill="none" stroke="#000" stroke-width="1.15"/>
<path d="M728.55,401.20H733.95M728.55,403.80H733.95M731.25,401.20V403.80" fill="none" stroke="#000" stroke-width="1.15"/>
<path d="M731.61,402.30H737.01M731.61,404.90H737.01M734.31,402.30V404.90" fill="none" stroke="#000" stroke-width="1.15"/>
<path d="M734.68,403.70H740.08M734.68,406.30H740.08M737.38,403.70V406.30" fill="none" stroke="#000" stroke-width="1.15"/>
<path d="M737.74,405.00H743.14M737.74,407.60H743.14M740.44,405.00V407.60" fill="none" stroke="#000" stroke-width="1.15"/>
<path d="M740.80,406.10H746.20M740.80,408.90H746.20M743.50,406.10V408.90" fill="none" stroke="#000" stroke-width="1.15"/>
<path d="M743.87,407.20H749.27M743.87,410.00H749.27M746.57,407.20V410.00" fill="none" stroke="#000" stroke-width="1.15"/>
<path d="M746.93,408.90H752.33M746.93,411.90H752.33M749.63,408.90V411.90" fill="none" stroke="#000" stroke-width="1.15"/>
<path d="M749.99,409.60H755.39M749.99,413.20H755.39M752.69,409.60V413.20" fill="none" stroke="#000" stroke-width="1.15"/>
<path d="M753.05,408.60H758.46M753.05,412.60H758.46M755.75,408.60V412.60" fill="none" stroke="#000" stroke-width="1.15"/>
<path d="M756.12,409.00H761.52M756.12,413.40H761.52M758.82,409.00V413.40" fill="none" stroke="#000" stroke-width="1.15"/>
<path d="M759.18,411.60H764.58M759.18,416.40H764.58M761.88,411.60V416.40" fill="none" stroke="#000" stroke-width="1.15"/>
<path d="M762.24,411.80H767.64M762.24,416.60H767.64M764.94,411.80V416.60" fill="none" stroke="#000" stroke-width="1.15"/>
<path d="M765.31,411.60H770.71M765.31,416.80H770.71M768.01,411.60V416.80" fill="none" stroke="#000" stroke-width="1.15"/>
<path d="M768.37,408.60H773.77M768.37,413.40H773.77M771.07,408.60V413.40" fill="none" stroke="#000" stroke-width="1.15"/>
<path d="M771.43,406.50H776.83M771.43,413.90H776.83M774.13,406.50V413.90" fill="none" stroke="#000" stroke-width="1.15"/>
<path d="M649.00,316.90H654.40M649.00,323.90H654.40M651.70,316.90V323.90" fill="none" stroke="#000" stroke-width="1.15"/>
<path d="M774.30,394.50H780.10M777.20,394.50V477.30" fill="none" stroke="#000" stroke-width="1.1"/>
<g clip-path="url(#cp1)">
<path d="M223.50,38.20 L-1776.50,1365.80" fill="none" stroke="#ff0000" stroke-width="1.25" stroke-dasharray="11.5 8.9" stroke-dashoffset="2.82" />
<path d="M223.50,38.20 L2223.50,1365.80" fill="none" stroke="#ff0000" stroke-width="1.25" stroke-dasharray="11.0 8.53" stroke-dashoffset="9.45" />
<path d="M223.50,54.90 L-1776.50,1382.50" fill="none" stroke="#ff0000" stroke-width="1.25" stroke-dasharray="11.5 8.9" stroke-dashoffset="2.82" />
<path d="M223.50,54.90 L2223.50,1382.50" fill="none" stroke="#ff0000" stroke-width="1.25" stroke-dasharray="11.0 8.53" stroke-dashoffset="13.65" />
<path d="M223.50,72.40 L-1776.50,1400.00" fill="none" stroke="#ff0000" stroke-width="1.25" stroke-dasharray="11.5 8.9" stroke-dashoffset="2.82" />
<path d="M223.50,72.40 L2223.50,1400.00" fill="none" stroke="#ff0000" stroke-width="1.25" stroke-dasharray="11.0 8.53" stroke-dashoffset="0.81" />
<path d="M223.50,104.20 L-1776.50,1431.80" fill="none" stroke="#ff0000" stroke-width="1.25" stroke-dasharray="11.3 8.66" stroke-dashoffset="11.74" />
<path d="M223.50,104.20 L2223.50,1431.80" fill="none" stroke="#ff0000" stroke-width="1.25" stroke-dasharray="11.0 8.53" stroke-dashoffset="3.36" />
</g>
<path d="M223.50,23.20 L223.50,151.60" fill="none" stroke="#000" stroke-width="1.45" stroke-dasharray="12 8.75" stroke-dashoffset="0" />
<line x1="228.05" y1="5.10" x2="228.05" y2="203.40" stroke="#000" stroke-width="1.7" />
<g clip-path="url(#cp2)">
<path d="M485.35,133.90 L491.97,130.67 L498.59,127.36 L505.21,123.97 L511.83,120.49 L518.44,116.95 L525.06,113.32 L531.68,109.62 L538.30,105.85 L544.92,102.02 L551.54,98.12 L558.16,94.15 L564.78,90.13 L571.39,86.05 L578.01,81.92 L584.63,77.73 L591.25,73.50 L597.87,69.23 L604.49,64.91 L611.11,60.56 L617.73,56.17 L624.34,51.75 L630.96,47.29 L637.58,42.81 L644.20,38.30 L651.20,43.08 L658.20,47.83 L665.20,52.55 L672.20,57.23 L679.20,61.87 L686.20,66.48 L693.20,71.04 L700.20,75.55 L707.20,80.01 L714.20,84.42 L721.20,88.76 L728.20,93.05 L735.20,97.27 L742.20,101.43 L749.20,105.51 L756.20,109.51 L763.20,113.44 L770.20,117.28 L777.20,121.04 L784.20,124.71 L791.20,128.30 L798.20,131.79 L805.20,135.19 L812.20,138.50" fill="none" stroke="#000" stroke-width="1.25"  />
<path d="M485.35,149.40 L491.97,146.16 L498.59,142.84 L505.21,139.46 L511.83,136.00 L518.44,132.47 L525.06,128.87 L531.68,125.20 L538.30,121.47 L544.92,117.68 L551.54,113.83 L558.16,109.92 L564.78,105.95 L571.39,101.93 L578.01,97.86 L584.63,93.75 L591.25,89.59 L597.87,85.39 L604.49,81.15 L611.11,76.87 L617.73,72.56 L624.34,68.21 L630.96,63.83 L637.58,59.43 L644.20,55.00 L651.20,59.64 L658.20,64.24 L665.20,68.82 L672.20,73.36 L679.20,77.86 L686.20,82.33 L693.20,86.75 L700.20,91.13 L707.20,95.45 L714.20,99.73 L721.20,103.95 L728.20,108.12 L735.20,112.22 L742.20,116.26 L749.20,120.24 L756.20,124.14 L763.20,127.97 L770.20,131.73 L777.20,135.41 L784.20,139.01 L791.20,142.53 L798.20,145.97 L805.20,149.33 L812.20,152.60" fill="none" stroke="#000" stroke-width="1.25"  />
<path d="M485.35,168.10 L491.97,164.65 L498.59,161.15 L505.21,157.58 L511.83,153.97 L518.44,150.30 L525.06,146.58 L531.68,142.81 L538.30,139.00 L544.92,135.14 L551.54,131.23 L558.16,127.29 L564.78,123.30 L571.39,119.28 L578.01,115.23 L584.63,111.13 L591.25,107.01 L597.87,102.86 L604.49,98.68 L611.11,94.47 L617.73,90.24 L624.34,85.99 L630.96,81.71 L637.58,77.42 L644.20,73.10 L651.20,77.66 L658.20,82.19 L665.20,86.70 L672.20,91.19 L679.20,95.65 L686.20,100.09 L693.20,104.49 L700.20,108.86 L707.20,113.20 L714.20,117.50 L721.20,121.76 L728.20,125.98 L735.20,130.15 L742.20,134.28 L749.20,138.37 L756.20,142.40 L763.20,146.38 L770.20,150.31 L777.20,154.18 L784.20,157.99 L791.20,161.74 L798.20,165.42 L805.20,169.04 L812.20,172.60" fill="none" stroke="#000" stroke-width="1.25"  />
<path d="M485.35,199.60 L491.97,196.10 L498.59,192.58 L505.21,189.04 L511.83,185.48 L518.44,181.90 L525.06,178.30 L531.68,174.69 L538.30,171.06 L544.92,167.41 L551.54,163.75 L558.16,160.07 L564.78,156.39 L571.39,152.68 L578.01,148.97 L584.63,145.25 L591.25,141.51 L597.87,137.76 L604.49,134.01 L611.11,130.24 L617.73,126.47 L624.34,122.69 L630.96,118.90 L637.58,115.10 L644.20,111.30 L651.20,115.26 L658.20,119.21 L665.20,123.16 L672.20,127.09 L679.20,131.02 L686.20,134.93 L693.20,138.84 L700.20,142.73 L707.20,146.62 L714.20,150.49 L721.20,154.34 L728.20,158.19 L735.20,162.01 L742.20,165.83 L749.20,169.62 L756.20,173.40 L763.20,177.16 L770.20,180.91 L777.20,184.63 L784.20,188.33 L791.20,192.01 L798.20,195.66 L805.20,199.29 L812.20,202.90" fill="none" stroke="#000" stroke-width="1.25"  />
<path d="M644.20,41.80 L-1355.80,1489.20" fill="none" stroke="#ff0000" stroke-width="1.25" stroke-dasharray="11.5 8.9" stroke-dashoffset="18.46" />
<path d="M644.20,41.80 L2644.20,1489.20" fill="none" stroke="#ff0000" stroke-width="1.25" stroke-dasharray="11.0 8.53" stroke-dashoffset="15.97" />
<path d="M644.20,58.40 L-1355.80,1495.80" fill="none" stroke="#ff0000" stroke-width="1.25" stroke-dasharray="11.5 8.9" stroke-dashoffset="17.89" />
<path d="M644.20,58.40 L2644.20,1495.80" fill="none" stroke="#ff0000" stroke-width="1.25" stroke-dasharray="11.0 8.53" stroke-dashoffset="7.38" />
<path d="M644.20,76.50 L-1355.80,1472.50" fill="none" stroke="#ff0000" stroke-width="1.25" stroke-dasharray="11.5 8.9" stroke-dashoffset="1.16" />
<path d="M644.20,76.50 L2644.20,1472.50" fill="none" stroke="#ff0000" stroke-width="1.25" stroke-dasharray="11.0 8.53" stroke-dashoffset="11.03" />
<path d="M644.20,113.00 L-1355.80,1312.00" fill="none" stroke="#ff0000" stroke-width="1.25" stroke-dasharray="11.3 8.66" stroke-dashoffset="14.86" />
<path d="M644.20,113.00 L2644.20,1312.00" fill="none" stroke="#ff0000" stroke-width="1.25" stroke-dasharray="11.0 8.53" stroke-dashoffset="6.24" />
<path d="M644.20,131.10 L244.20,209.62" fill="none" stroke="#0000ff" stroke-width="1.3" stroke-dasharray="11.4 3.5 2.4 3.8" stroke-dashoffset="0" />
<path d="M644.20,131.10 L1044.20,209.62" fill="none" stroke="#0000ff" stroke-width="1.3" stroke-dasharray="11.4 3.5 2.4 3.8" stroke-dashoffset="15.6" />
<path d="M644.20,143.40 L244.20,230.48" fill="none" stroke="#0000ff" stroke-width="1.3" stroke-dasharray="11.4 3.5 2.4 3.8" stroke-dashoffset="4.0" />
<path d="M644.20,143.40 L1044.20,230.48" fill="none" stroke="#0000ff" stroke-width="1.3" stroke-dasharray="11.4 3.5 2.4 3.8" stroke-dashoffset="6.9" />
<path d="M644.20,167.30 L244.20,264.10" fill="none" stroke="#0000ff" stroke-width="1.3" stroke-dasharray="11.4 3.5 2.4 3.8" stroke-dashoffset="15.4" />
<path d="M644.20,167.30 L1044.20,264.10" fill="none" stroke="#0000ff" stroke-width="1.3" stroke-dasharray="11.4 3.5 2.4 3.8" stroke-dashoffset="15.6" />
</g>
<path d="M644.20,23.20 L644.20,151.60" fill="none" stroke="#000" stroke-width="1.45" stroke-dasharray="12 8.75" stroke-dashoffset="0" />
<line x1="648.80" y1="5.10" x2="648.80" y2="203.40" stroke="#000" stroke-width="1.25" />
<g clip-path="url(#cp3)">
<path d="M64.55,433.53 L66.59,432.77 L68.64,432.02 L70.68,431.27 L72.72,430.52 L74.77,429.77 L76.81,429.02 L78.85,428.26 L80.89,427.51 L82.94,426.76 L84.98,426.00 L87.02,425.25 L89.07,424.50 L91.11,423.74 L93.15,422.98 L95.20,422.23 L97.24,421.47 L99.28,420.71 L101.33,419.95 L103.37,419.19 L105.41,418.43 L107.46,417.66 L109.50,416.89 L111.54,416.12 L113.58,415.35 L115.63,414.58 L117.67,413.79 L119.71,413.01 L121.76,412.22 L123.80,411.42 L125.84,410.62 L127.89,409.81 L129.93,408.99 L131.97,408.16 L134.02,407.31 L136.06,406.46 L138.10,405.59 L140.15,404.70 L142.19,403.78 L144.23,402.85 L146.27,401.89 L148.32,400.90 L150.36,399.88 L152.40,398.82 L154.45,397.72 L156.49,396.58 L158.53,395.38 L160.58,394.13 L162.62,392.81 L164.66,391.44 L166.71,389.99 L168.75,388.46 L170.79,386.85 L172.84,385.16 L174.88,383.38 L176.92,381.52 L178.96,379.56 L181.01,377.50 L183.05,375.36 L185.09,373.12 L187.14,370.79 L189.18,368.37 L191.22,365.87 L193.27,363.29 L195.31,360.64 L197.35,357.92 L199.40,355.13 L201.44,352.28 L203.48,349.38 L205.53,346.42 L207.57,343.42 L209.61,340.38 L211.65,337.31 L213.70,334.20 L215.74,331.07 L217.78,327.90 L219.83,324.72 L221.87,321.52 L223.91,318.29 L225.96,315.06 L226.90,313.56 L228.00,315.31 L230.04,318.54 L232.09,321.76 L234.13,324.97 L236.17,328.15 L238.22,331.31 L240.26,334.44 L242.30,337.55 L244.34,340.62 L246.39,343.66 L248.43,346.65 L250.47,349.60 L252.52,352.50 L254.56,355.34 L256.60,358.13 L258.65,360.85 L260.69,363.50 L262.73,366.07 L264.78,368.56 L266.82,370.97 L268.86,373.29 L270.91,375.52 L272.95,377.66 L274.99,379.71 L277.03,381.66 L279.08,383.52 L281.12,385.30 L283.16,386.98 L285.21,388.58 L287.25,390.10 L289.29,391.54 L291.34,392.92 L293.38,394.23 L295.42,395.47 L297.47,396.67 L299.51,397.81 L301.55,398.91 L303.60,399.96 L305.64,400.98 L307.68,401.97 L309.73,402.92 L311.77,403.86 L313.81,404.76 L315.85,405.65 L317.90,406.52 L319.94,407.38 L321.98,408.22 L324.03,409.05 L326.07,409.87 L328.11,410.68 L330.16,411.48 L332.20,412.28 L334.24,413.07 L336.29,413.85 L338.33,414.63 L340.37,415.41 L342.41,416.18 L344.46,416.95 L346.50,417.72 L348.54,418.49 L350.59,419.25 L352.63,420.01 L354.67,420.77 L356.72,421.53 L358.76,422.29 L360.80,423.04 L362.85,423.80 L364.89,424.55 L366.93,425.31 L368.98,426.06 L371.02,426.82 L373.06,427.57 L375.10,428.32 L377.15,429.07 L379.19,429.83 L381.23,430.58 L383.28,431.33 L385.32,432.08 L387.36,432.83 L389.41,433.58 L391.45,434.33" fill="none" stroke="#000" stroke-width="1.25"  />
<path d="M127.05,477.45 L133.63,466.70" fill="none" stroke="#ff0000" stroke-width="1.25"  />
<path d="M135.22,464.10 L226.90,314.20" fill="none" stroke="#ff0000" stroke-width="1.25" stroke-dasharray="11.6 8.54" stroke-dashoffset="0" />
<path d="M226.90,314.20 L326.75,477.45" fill="none" stroke="#ff0000" stroke-width="1.25" stroke-dasharray="11.7 8.54" stroke-dashoffset="9.1" />
<path d="M226.90,373.90 L64.55,433.53" fill="none" stroke="#0000ff" stroke-width="1.3" stroke-dasharray="11.4 3.5 2.4 3.8" stroke-dashoffset="16.1" />
<path d="M226.90,373.90 L391.45,434.34" fill="none" stroke="#0000ff" stroke-width="1.3" stroke-dasharray="11.4 3.5 2.4 3.8" stroke-dashoffset="16.1" />
</g>
<g clip-path="url(#cp4)">
<path d="M485.30,424.54 L487.34,424.15 L489.39,423.76 L491.43,423.36 L493.47,422.94 L495.51,422.52 L497.56,422.09 L499.60,421.64 L501.64,421.19 L503.69,420.72 L505.73,420.25 L507.77,419.76 L509.81,419.26 L511.86,418.75 L513.90,418.22 L515.94,417.69 L517.99,417.13 L520.03,416.57 L522.07,415.99 L524.11,415.40 L526.16,414.79 L528.20,414.17 L530.24,413.54 L532.28,412.89 L534.33,412.22 L536.37,411.54 L538.41,410.84 L540.46,410.13 L542.50,409.39 L544.54,408.65 L546.58,407.88 L548.63,407.09 L550.67,406.29 L552.71,405.46 L554.76,404.62 L556.80,403.75 L558.84,402.86 L560.88,401.95 L562.93,401.01 L564.97,400.04 L567.01,399.05 L569.06,398.03 L571.10,396.98 L573.14,395.89 L575.18,394.76 L577.23,393.60 L579.27,392.39 L581.31,391.14 L583.36,389.84 L585.40,388.48 L587.44,387.07 L589.48,385.60 L591.53,384.07 L593.57,382.47 L595.61,380.80 L597.65,379.05 L599.70,377.22 L601.74,375.32 L603.78,373.33 L605.83,371.25 L607.87,369.09 L609.91,366.84 L611.95,364.51 L614.00,362.09 L616.04,359.59 L618.08,357.01 L620.13,354.34 L622.17,351.61 L624.21,348.80 L626.25,345.93 L628.30,343.00 L630.34,340.01 L632.38,336.96 L634.43,333.87 L636.47,330.73 L638.51,327.55 L640.55,324.33 L642.60,321.08 L644.64,317.80 L646.68,314.49 L647.60,312.99 L648.73,314.82 L650.77,318.13 L652.81,321.41 L654.85,324.66 L656.90,327.87 L658.94,331.05 L660.98,334.18 L663.02,337.27 L665.07,340.31 L667.11,343.30 L669.15,346.23 L671.20,349.09 L673.24,351.89 L675.28,354.62 L677.32,357.27 L679.37,359.85 L681.41,362.34 L683.45,364.75 L685.50,367.07 L687.54,369.31 L689.58,371.47 L691.62,373.53 L693.67,375.51 L695.71,377.41 L697.75,379.23 L699.80,380.97 L701.84,382.63 L703.88,384.23 L705.92,385.76 L707.97,387.22 L710.01,388.62 L712.05,389.97 L714.10,391.27 L716.14,392.51 L718.18,393.72 L720.22,394.88 L722.27,396.00 L724.31,397.08 L726.35,398.13 L728.39,399.15 L730.44,400.14 L732.48,401.11 L734.52,402.04 L736.57,402.95 L738.61,403.84 L740.65,404.70 L742.69,405.55 L744.74,406.37 L746.78,407.17 L748.82,407.96 L750.87,408.72 L752.91,409.47 L754.95,410.20 L756.99,410.91 L759.04,411.61 L761.08,412.29 L763.12,412.95 L765.17,413.60 L767.21,414.24 L769.25,414.86 L771.29,415.46 L773.34,416.05 L775.38,416.63 L777.42,417.19 L779.46,417.74 L781.51,418.28 L783.55,418.80 L785.59,419.31 L787.64,419.81 L789.68,420.30 L791.72,420.77 L793.76,421.24 L795.81,421.69 L797.85,422.13 L799.89,422.56 L801.94,422.99 L803.98,423.40 L806.02,423.80 L808.06,424.19 L810.11,424.58 L812.15,424.95" fill="none" stroke="#000" stroke-width="1.25"  />
<path d="M553.05,477.45 L647.60,314.50" fill="none" stroke="#ff0000" stroke-width="1.25" stroke-dasharray="11.7 8.7" stroke-dashoffset="0" />
<path d="M647.60,314.50 L742.15,477.45" fill="none" stroke="#ff0000" stroke-width="1.25" stroke-dasharray="11.7 8.6" stroke-dashoffset="12.7" />
<path d="M732.66,461.10 L742.15,477.45" fill="none" stroke="#ff0000" stroke-width="1.25"  />
<path d="M647.60,359.10 L485.30,455.18" fill="none" stroke="#0000ff" stroke-width="1.3" stroke-dasharray="11.4 3.5 2.4 3.8" stroke-dashoffset="0" />
<path d="M647.60,359.10 L812.15,456.51" fill="none" stroke="#0000ff" stroke-width="1.3" stroke-dasharray="11.4 3.5 2.4 3.8" stroke-dashoffset="11.4" />
<path d="M485.30,428.16 L487.34,427.97 L489.39,427.77 L491.43,427.57 L493.47,427.38 L495.51,427.18 L497.56,426.99 L499.60,426.79 L501.64,426.59 L503.69,426.40 L505.73,426.20 L507.77,426.01 L509.81,425.81 L511.86,425.61 L513.90,425.42 L515.94,425.23 L517.99,425.03 L520.03,424.84 L522.07,424.64 L524.11,424.45 L526.16,424.26 L528.20,424.07 L530.24,423.88 L532.28,423.69 L534.33,423.50 L536.37,423.31 L538.41,423.12 L540.46,422.94 L542.50,422.75 L544.54,422.57 L546.58,422.39 L548.63,422.20 L550.67,422.02 L552.71,421.85 L554.76,421.67 L556.80,421.50 L558.84,421.32 L560.88,421.15 L562.93,420.98 L564.97,420.82 L567.01,420.65 L569.06,420.49 L571.10,420.33 L573.14,420.17 L575.18,420.02 L577.23,419.86 L579.27,419.72 L581.31,419.57 L583.36,419.43 L585.40,419.28 L587.44,419.15 L589.48,419.01 L591.53,418.88 L593.57,418.76 L595.61,418.63 L597.65,418.51 L599.70,418.40 L601.74,418.29 L603.78,418.18 L605.83,418.08 L607.87,417.98 L609.91,417.88 L611.95,417.79 L614.00,417.71 L616.04,417.62 L618.08,417.55 L620.13,417.48 L622.17,417.41 L624.21,417.35 L626.25,417.29 L628.30,417.24 L630.34,417.19 L632.38,417.15 L634.43,417.11 L636.47,417.08 L638.51,417.05 L640.55,417.03 L642.60,417.02 L644.64,417.01 L646.68,417.00 L647.60,417.00 L648.73,417.00 L650.77,417.01 L652.81,417.02 L654.85,417.03 L656.90,417.06 L658.94,417.08 L660.98,417.11 L663.02,417.15 L665.07,417.19 L667.11,417.24 L669.15,417.29 L671.20,417.35 L673.24,417.41 L675.28,417.48 L677.32,417.55 L679.37,417.63 L681.41,417.71 L683.45,417.80 L685.50,417.89 L687.54,417.99 L689.58,418.09 L691.62,418.19 L693.67,418.30 L695.71,418.41 L697.75,418.53 L699.80,418.65 L701.84,418.77 L703.88,418.90 L705.92,419.03 L707.97,419.16 L710.01,419.30 L712.05,419.44 L714.10,419.58 L716.14,419.73 L718.18,419.88 L720.22,420.03 L722.27,420.19 L724.31,420.35 L726.35,420.51 L728.39,420.67 L730.44,420.83 L732.48,421.00 L734.52,421.17 L736.57,421.34 L738.61,421.51 L740.65,421.69 L742.69,421.86 L744.74,422.04 L746.78,422.22 L748.82,422.40 L750.87,422.59 L752.91,422.77 L754.95,422.96 L756.99,423.14 L759.04,423.33 L761.08,423.52 L763.12,423.71 L765.17,423.90 L767.21,424.09 L769.25,424.28 L771.29,424.47 L773.34,424.66 L775.38,424.86 L777.42,425.05 L779.46,425.25 L781.51,425.44 L783.55,425.63 L785.59,425.83 L787.64,426.03 L789.68,426.22 L791.72,426.42 L793.76,426.61 L795.81,426.81 L797.85,427.01 L799.89,427.20 L801.94,427.40 L803.98,427.59 L806.02,427.79 L808.06,427.99 L810.11,428.18 L812.15,428.38" fill="none" stroke="#00ff00" stroke-width="1.4" stroke-dasharray="2.6 4.0" stroke-dashoffset="0" />
</g>
<rect x="64.65" y="5.10" width="326.85" height="198.30" fill="none" stroke="#000" stroke-width="1.4"/>
<line x1="85.08" y1="203.40" x2="85.08" y2="198.20" stroke="#000" stroke-width="1.05" />
<line x1="85.08" y1="5.10" x2="85.08" y2="10.30" stroke="#000" stroke-width="1.05" />
<line x1="105.51" y1="203.40" x2="105.51" y2="198.20" stroke="#000" stroke-width="1.05" />
<line x1="105.51" y1="5.10" x2="105.51" y2="10.30" stroke="#000" stroke-width="1.05" />
<line x1="125.93" y1="203.40" x2="125.93" y2="193.20" stroke="#000" stroke-width="1.05" />
<line x1="125.93" y1="5.10" x2="125.93" y2="15.30" stroke="#000" stroke-width="1.05" />
<line x1="146.36" y1="203.40" x2="146.36" y2="198.20" stroke="#000" stroke-width="1.05" />
<line x1="146.36" y1="5.10" x2="146.36" y2="10.30" stroke="#000" stroke-width="1.05" />
<line x1="166.79" y1="203.40" x2="166.79" y2="198.20" stroke="#000" stroke-width="1.05" />
<line x1="166.79" y1="5.10" x2="166.79" y2="10.30" stroke="#000" stroke-width="1.05" />
<line x1="187.22" y1="203.40" x2="187.22" y2="198.20" stroke="#000" stroke-width="1.05" />
<line x1="187.22" y1="5.10" x2="187.22" y2="10.30" stroke="#000" stroke-width="1.05" />
<line x1="207.65" y1="203.40" x2="207.65" y2="198.20" stroke="#000" stroke-width="1.05" />
<line x1="207.65" y1="5.10" x2="207.65" y2="10.30" stroke="#000" stroke-width="1.05" />
<line x1="228.08" y1="203.40" x2="228.08" y2="193.20" stroke="#000" stroke-width="1.05" />
<line x1="228.08" y1="5.10" x2="228.08" y2="15.30" stroke="#000" stroke-width="1.05" />
<line x1="248.50" y1="203.40" x2="248.50" y2="198.20" stroke="#000" stroke-width="1.05" />
<line x1="248.50" y1="5.10" x2="248.50" y2="10.30" stroke="#000" stroke-width="1.05" />
<line x1="268.93" y1="203.40" x2="268.93" y2="198.20" stroke="#000" stroke-width="1.05" />
<line x1="268.93" y1="5.10" x2="268.93" y2="10.30" stroke="#000" stroke-width="1.05" />
<line x1="289.36" y1="203.40" x2="289.36" y2="198.20" stroke="#000" stroke-width="1.05" />
<line x1="289.36" y1="5.10" x2="289.36" y2="10.30" stroke="#000" stroke-width="1.05" />
<line x1="309.79" y1="203.40" x2="309.79" y2="198.20" stroke="#000" stroke-width="1.05" />
<line x1="309.79" y1="5.10" x2="309.79" y2="10.30" stroke="#000" stroke-width="1.05" />
<line x1="330.22" y1="203.40" x2="330.22" y2="193.20" stroke="#000" stroke-width="1.05" />
<line x1="330.22" y1="5.10" x2="330.22" y2="15.30" stroke="#000" stroke-width="1.05" />
<line x1="350.64" y1="203.40" x2="350.64" y2="198.20" stroke="#000" stroke-width="1.05" />
<line x1="350.64" y1="5.10" x2="350.64" y2="10.30" stroke="#000" stroke-width="1.05" />
<line x1="371.07" y1="203.40" x2="371.07" y2="198.20" stroke="#000" stroke-width="1.05" />
<line x1="371.07" y1="5.10" x2="371.07" y2="10.30" stroke="#000" stroke-width="1.05" />
<line x1="64.65" y1="12.42" x2="69.85" y2="12.42" stroke="#000" stroke-width="1.05" />
<line x1="391.50" y1="12.42" x2="386.30" y2="12.42" stroke="#000" stroke-width="1.05" />
<line x1="64.65" y1="19.74" x2="69.85" y2="19.74" stroke="#000" stroke-width="1.05" />
<line x1="391.50" y1="19.74" x2="386.30" y2="19.74" stroke="#000" stroke-width="1.05" />
<line x1="64.65" y1="27.06" x2="69.85" y2="27.06" stroke="#000" stroke-width="1.05" />
<line x1="391.50" y1="27.06" x2="386.30" y2="27.06" stroke="#000" stroke-width="1.05" />
<line x1="64.65" y1="34.38" x2="69.85" y2="34.38" stroke="#000" stroke-width="1.05" />
<line x1="391.50" y1="34.38" x2="386.30" y2="34.38" stroke="#000" stroke-width="1.05" />
<line x1="64.65" y1="41.70" x2="74.85" y2="41.70" stroke="#000" stroke-width="1.05" />
<line x1="391.50" y1="41.70" x2="381.30" y2="41.70" stroke="#000" stroke-width="1.05" />
<line x1="64.65" y1="49.02" x2="69.85" y2="49.02" stroke="#000" stroke-width="1.05" />
<line x1="391.50" y1="49.02" x2="386.30" y2="49.02" stroke="#000" stroke-width="1.05" />
<line x1="64.65" y1="56.34" x2="69.85" y2="56.34" stroke="#000" stroke-width="1.05" />
<line x1="391.50" y1="56.34" x2="386.30" y2="56.34" stroke="#000" stroke-width="1.05" />
<line x1="64.65" y1="63.66" x2="69.85" y2="63.66" stroke="#000" stroke-width="1.05" />
<line x1="391.50" y1="63.66" x2="386.30" y2="63.66" stroke="#000" stroke-width="1.05" />
<line x1="64.65" y1="70.98" x2="69.85" y2="70.98" stroke="#000" stroke-width="1.05" />
<line x1="391.50" y1="70.98" x2="386.30" y2="70.98" stroke="#000" stroke-width="1.05" />
<line x1="64.65" y1="78.30" x2="74.85" y2="78.30" stroke="#000" stroke-width="1.05" />
<line x1="391.50" y1="78.30" x2="381.30" y2="78.30" stroke="#000" stroke-width="1.05" />
<line x1="64.65" y1="85.62" x2="69.85" y2="85.62" stroke="#000" stroke-width="1.05" />
<line x1="391.50" y1="85.62" x2="386.30" y2="85.62" stroke="#000" stroke-width="1.05" />
<line x1="64.65" y1="92.94" x2="69.85" y2="92.94" stroke="#000" stroke-width="1.05" />
<line x1="391.50" y1="92.94" x2="386.30" y2="92.94" stroke="#000" stroke-width="1.05" />
<line x1="64.65" y1="100.26" x2="69.85" y2="100.26" stroke="#000" stroke-width="1.05" />
<line x1="391.50" y1="100.26" x2="386.30" y2="100.26" stroke="#000" stroke-width="1.05" />
<line x1="64.65" y1="107.58" x2="69.85" y2="107.58" stroke="#000" stroke-width="1.05" />
<line x1="391.50" y1="107.58" x2="386.30" y2="107.58" stroke="#000" stroke-width="1.05" />
<line x1="64.65" y1="114.90" x2="74.85" y2="114.90" stroke="#000" stroke-width="1.05" />
<line x1="391.50" y1="114.90" x2="381.30" y2="114.90" stroke="#000" stroke-width="1.05" />
<line x1="64.65" y1="122.22" x2="69.85" y2="122.22" stroke="#000" stroke-width="1.05" />
<line x1="391.50" y1="122.22" x2="386.30" y2="122.22" stroke="#000" stroke-width="1.05" />
<line x1="64.65" y1="129.54" x2="69.85" y2="129.54" stroke="#000" stroke-width="1.05" />
<line x1="391.50" y1="129.54" x2="386.30" y2="129.54" stroke="#000" stroke-width="1.05" />
<line x1="64.65" y1="136.86" x2="69.85" y2="136.86" stroke="#000" stroke-width="1.05" />
<line x1="391.50" y1="136.86" x2="386.30" y2="136.86" stroke="#000" stroke-width="1.05" />
<line x1="64.65" y1="144.18" x2="69.85" y2="144.18" stroke="#000" stroke-width="1.05" />
<line x1="391.50" y1="144.18" x2="386.30" y2="144.18" stroke="#000" stroke-width="1.05" />
<line x1="64.65" y1="151.50" x2="74.85" y2="151.50" stroke="#000" stroke-width="1.05" />
<line x1="391.50" y1="151.50" x2="381.30" y2="151.50" stroke="#000" stroke-width="1.05" />
<line x1="64.65" y1="158.82" x2="69.85" y2="158.82" stroke="#000" stroke-width="1.05" />
<line x1="391.50" y1="158.82" x2="386.30" y2="158.82" stroke="#000" stroke-width="1.05" />
<line x1="64.65" y1="166.14" x2="69.85" y2="166.14" stroke="#000" stroke-width="1.05" />
<line x1="391.50" y1="166.14" x2="386.30" y2="166.14" stroke="#000" stroke-width="1.05" />
<line x1="64.65" y1="173.46" x2="69.85" y2="173.46" stroke="#000" stroke-width="1.05" />
<line x1="391.50" y1="173.46" x2="386.30" y2="173.46" stroke="#000" stroke-width="1.05" />
<line x1="64.65" y1="180.78" x2="69.85" y2="180.78" stroke="#000" stroke-width="1.05" />
<line x1="391.50" y1="180.78" x2="386.30" y2="180.78" stroke="#000" stroke-width="1.05" />
<line x1="64.65" y1="188.10" x2="74.85" y2="188.10" stroke="#000" stroke-width="1.05" />
<line x1="391.50" y1="188.10" x2="381.30" y2="188.10" stroke="#000" stroke-width="1.05" />
<line x1="64.65" y1="195.42" x2="69.85" y2="195.42" stroke="#000" stroke-width="1.05" />
<line x1="391.50" y1="195.42" x2="386.30" y2="195.42" stroke="#000" stroke-width="1.05" />
<line x1="64.65" y1="202.74" x2="69.85" y2="202.74" stroke="#000" stroke-width="1.05" />
<line x1="391.50" y1="202.74" x2="386.30" y2="202.74" stroke="#000" stroke-width="1.05" />
<text transform="translate(106.02,223.25) scale(1.196,1.0)" font-size="14.8">−</text>
<text transform="translate(117.37,222.85) scale(1.112,1.0)" font-size="14.8">5</text>
<text transform="translate(126.78,222.85) scale(1.117,1.0)" font-size="14.8">0</text>
<text transform="translate(136.23,222.85) scale(1.117,1.0)" font-size="14.8">0</text>
<text transform="translate(223.38,222.85) scale(1.117,1.0)" font-size="14.8">0</text>
<text transform="translate(316.08,222.85) scale(1.112,1.0)" font-size="14.8">5</text>
<text transform="translate(325.50,222.85) scale(1.117,1.0)" font-size="14.8">0</text>
<text transform="translate(334.95,222.85) scale(1.117,1.0)" font-size="14.8">0</text>
<text transform="translate(34.15,10.65) scale(1.196,1.0)" font-size="14.8">−</text>
<text transform="translate(45.45,10.25) scale(1.167,1.0)" font-size="14.8">4</text>
<text transform="translate(34.75,47.25) scale(1.196,1.0)" font-size="14.8">−</text>
<text transform="translate(46.09,46.85) scale(1.112,1.0)" font-size="14.8">5</text>
<text transform="translate(34.80,83.85) scale(1.196,1.0)" font-size="14.8">−</text>
<text transform="translate(45.89,83.45) scale(1.142,1.0)" font-size="14.8">6</text>
<text transform="translate(34.88,120.45) scale(1.196,1.0)" font-size="14.8">−</text>
<text transform="translate(46.20,120.05) scale(1.115,1.0)" font-size="14.8">7</text>
<text transform="translate(34.70,157.05) scale(1.196,1.0)" font-size="14.8">−</text>
<text transform="translate(45.92,156.65) scale(1.138,1.0)" font-size="14.8">8</text>
<text transform="translate(34.80,193.65) scale(1.196,1.0)" font-size="14.8">−</text>
<text transform="translate(45.96,193.25) scale(1.141,1.0)" font-size="14.8">9</text>
<text transform="translate(204.71,243.60) scale(0.842,1.0)" font-size="15.4">Z</text>
<text transform="translate(221.78,243.60) scale(0.833,1.15)" font-size="15.4">(</text>
<text transform="translate(227.89,243.60) scale(0.996,1.0)" font-size="15.4">p</text>
<text transform="translate(236.83,243.60) scale(0.979,1.0)" font-size="15.4">c</text>
<text transform="translate(247.10,243.60) scale(0.882,1.15)" font-size="15.4">)</text>
<g transform="translate(21.85,104.25) rotate(-90)">
<text transform="translate(-18.10,0.00) scale(1.169,1.0)" font-size="14.6">l</text>
<text transform="translate(-13.59,0.00) scale(0.919,1.0)" font-size="14.6">n</text>
<text transform="translate(-4.60,0.00) scale(0.878,1.15)" font-size="14.6">(</text>
<text transform="translate(1.84,0.00) scale(0.840,1.0)" font-size="16.4" font-style="italic" stroke="#000" stroke-width="0.5">ρ</text>
<text transform="translate(11.32,0.00) scale(0.930,1.15)" font-size="14.6">)</text>
</g>
<rect x="485.35" y="5.10" width="326.85" height="198.30" fill="none" stroke="#000" stroke-width="1.4"/>
<line x1="505.78" y1="203.40" x2="505.78" y2="198.20" stroke="#000" stroke-width="1.05" />
<line x1="505.78" y1="5.10" x2="505.78" y2="10.30" stroke="#000" stroke-width="1.05" />
<line x1="526.21" y1="203.40" x2="526.21" y2="198.20" stroke="#000" stroke-width="1.05" />
<line x1="526.21" y1="5.10" x2="526.21" y2="10.30" stroke="#000" stroke-width="1.05" />
<line x1="546.63" y1="203.40" x2="546.63" y2="193.20" stroke="#000" stroke-width="1.05" />
<line x1="546.63" y1="5.10" x2="546.63" y2="15.30" stroke="#000" stroke-width="1.05" />
<line x1="567.06" y1="203.40" x2="567.06" y2="198.20" stroke="#000" stroke-width="1.05" />
<line x1="567.06" y1="5.10" x2="567.06" y2="10.30" stroke="#000" stroke-width="1.05" />
<line x1="587.49" y1="203.40" x2="587.49" y2="198.20" stroke="#000" stroke-width="1.05" />
<line x1="587.49" y1="5.10" x2="587.49" y2="10.30" stroke="#000" stroke-width="1.05" />
<line x1="607.92" y1="203.40" x2="607.92" y2="198.20" stroke="#000" stroke-width="1.05" />
<line x1="607.92" y1="5.10" x2="607.92" y2="10.30" stroke="#000" stroke-width="1.05" />
<line x1="628.35" y1="203.40" x2="628.35" y2="198.20" stroke="#000" stroke-width="1.05" />
<line x1="628.35" y1="5.10" x2="628.35" y2="10.30" stroke="#000" stroke-width="1.05" />
<line x1="648.78" y1="203.40" x2="648.78" y2="193.20" stroke="#000" stroke-width="1.05" />
<line x1="648.78" y1="5.10" x2="648.78" y2="15.30" stroke="#000" stroke-width="1.05" />
<line x1="669.20" y1="203.40" x2="669.20" y2="198.20" stroke="#000" stroke-width="1.05" />
<line x1="669.20" y1="5.10" x2="669.20" y2="10.30" stroke="#000" stroke-width="1.05" />
<line x1="689.63" y1="203.40" x2="689.63" y2="198.20" stroke="#000" stroke-width="1.05" />
<line x1="689.63" y1="5.10" x2="689.63" y2="10.30" stroke="#000" stroke-width="1.05" />
<line x1="710.06" y1="203.40" x2="710.06" y2="198.20" stroke="#000" stroke-width="1.05" />
<line x1="710.06" y1="5.10" x2="710.06" y2="10.30" stroke="#000" stroke-width="1.05" />
<line x1="730.49" y1="203.40" x2="730.49" y2="198.20" stroke="#000" stroke-width="1.05" />
<line x1="730.49" y1="5.10" x2="730.49" y2="10.30" stroke="#000" stroke-width="1.05" />
<line x1="750.92" y1="203.40" x2="750.92" y2="193.20" stroke="#000" stroke-width="1.05" />
<line x1="750.92" y1="5.10" x2="750.92" y2="15.30" stroke="#000" stroke-width="1.05" />
<line x1="771.34" y1="203.40" x2="771.34" y2="198.20" stroke="#000" stroke-width="1.05" />
<line x1="771.34" y1="5.10" x2="771.34" y2="10.30" stroke="#000" stroke-width="1.05" />
<line x1="791.77" y1="203.40" x2="791.77" y2="198.20" stroke="#000" stroke-width="1.05" />
<line x1="791.77" y1="5.10" x2="791.77" y2="10.30" stroke="#000" stroke-width="1.05" />
<line x1="485.35" y1="12.42" x2="490.55" y2="12.42" stroke="#000" stroke-width="1.05" />
<line x1="812.20" y1="12.42" x2="807.00" y2="12.42" stroke="#000" stroke-width="1.05" />
<line x1="485.35" y1="19.74" x2="490.55" y2="19.74" stroke="#000" stroke-width="1.05" />
<line x1="812.20" y1="19.74" x2="807.00" y2="19.74" stroke="#000" stroke-width="1.05" />
<line x1="485.35" y1="27.06" x2="490.55" y2="27.06" stroke="#000" stroke-width="1.05" />
<line x1="812.20" y1="27.06" x2="807.00" y2="27.06" stroke="#000" stroke-width="1.05" />
<line x1="485.35" y1="34.38" x2="490.55" y2="34.38" stroke="#000" stroke-width="1.05" />
<line x1="812.20" y1="34.38" x2="807.00" y2="34.38" stroke="#000" stroke-width="1.05" />
<line x1="485.35" y1="41.70" x2="495.55" y2="41.70" stroke="#000" stroke-width="1.05" />
<line x1="812.20" y1="41.70" x2="802.00" y2="41.70" stroke="#000" stroke-width="1.05" />
<line x1="485.35" y1="49.02" x2="490.55" y2="49.02" stroke="#000" stroke-width="1.05" />
<line x1="812.20" y1="49.02" x2="807.00" y2="49.02" stroke="#000" stroke-width="1.05" />
<line x1="485.35" y1="56.34" x2="490.55" y2="56.34" stroke="#000" stroke-width="1.05" />
<line x1="812.20" y1="56.34" x2="807.00" y2="56.34" stroke="#000" stroke-width="1.05" />
<line x1="485.35" y1="63.66" x2="490.55" y2="63.66" stroke="#000" stroke-width="1.05" />
<line x1="812.20" y1="63.66" x2="807.00" y2="63.66" stroke="#000" stroke-width="1.05" />
<line x1="485.35" y1="70.98" x2="490.55" y2="70.98" stroke="#000" stroke-width="1.05" />
<line x1="812.20" y1="70.98" x2="807.00" y2="70.98" stroke="#000" stroke-width="1.05" />
<line x1="485.35" y1="78.30" x2="495.55" y2="78.30" stroke="#000" stroke-width="1.05" />
<line x1="812.20" y1="78.30" x2="802.00" y2="78.30" stroke="#000" stroke-width="1.05" />
<line x1="485.35" y1="85.62" x2="490.55" y2="85.62" stroke="#000" stroke-width="1.05" />
<line x1="812.20" y1="85.62" x2="807.00" y2="85.62" stroke="#000" stroke-width="1.05" />
<line x1="485.35" y1="92.94" x2="490.55" y2="92.94" stroke="#000" stroke-width="1.05" />
<line x1="812.20" y1="92.94" x2="807.00" y2="92.94" stroke="#000" stroke-width="1.05" />
<line x1="485.35" y1="100.26" x2="490.55" y2="100.26" stroke="#000" stroke-width="1.05" />
<line x1="812.20" y1="100.26" x2="807.00" y2="100.26" stroke="#000" stroke-width="1.05" />
<line x1="485.35" y1="107.58" x2="490.55" y2="107.58" stroke="#000" stroke-width="1.05" />
<line x1="812.20" y1="107.58" x2="807.00" y2="107.58" stroke="#000" stroke-width="1.05" />
<line x1="485.35" y1="114.90" x2="495.55" y2="114.90" stroke="#000" stroke-width="1.05" />
<line x1="812.20" y1="114.90" x2="802.00" y2="114.90" stroke="#000" stroke-width="1.05" />
<line x1="485.35" y1="122.22" x2="490.55" y2="122.22" stroke="#000" stroke-width="1.05" />
<line x1="812.20" y1="122.22" x2="807.00" y2="122.22" stroke="#000" stroke-width="1.05" />
<line x1="485.35" y1="129.54" x2="490.55" y2="129.54" stroke="#000" stroke-width="1.05" />
<line x1="812.20" y1="129.54" x2="807.00" y2="129.54" stroke="#000" stroke-width="1.05" />
<line x1="485.35" y1="136.86" x2="490.55" y2="136.86" stroke="#000" stroke-width="1.05" />
<line x1="812.20" y1="136.86" x2="807.00" y2="136.86" stroke="#000" stroke-width="1.05" />
<line x1="485.35" y1="144.18" x2="490.55" y2="144.18" stroke="#000" stroke-width="1.05" />
<line x1="812.20" y1="144.18" x2="807.00" y2="144.18" stroke="#000" stroke-width="1.05" />
<line x1="485.35" y1="151.50" x2="495.55" y2="151.50" stroke="#000" stroke-width="1.05" />
<line x1="812.20" y1="151.50" x2="802.00" y2="151.50" stroke="#000" stroke-width="1.05" />
<line x1="485.35" y1="158.82" x2="490.55" y2="158.82" stroke="#000" stroke-width="1.05" />
<line x1="812.20" y1="158.82" x2="807.00" y2="158.82" stroke="#000" stroke-width="1.05" />
<line x1="485.35" y1="166.14" x2="490.55" y2="166.14" stroke="#000" stroke-width="1.05" />
<line x1="812.20" y1="166.14" x2="807.00" y2="166.14" stroke="#000" stroke-width="1.05" />
<line x1="485.35" y1="173.46" x2="490.55" y2="173.46" stroke="#000" stroke-width="1.05" />
<line x1="812.20" y1="173.46" x2="807.00" y2="173.46" stroke="#000" stroke-width="1.05" />
<line x1="485.35" y1="180.78" x2="490.55" y2="180.78" stroke="#000" stroke-width="1.05" />
<line x1="812.20" y1="180.78" x2="807.00" y2="180.78" stroke="#000" stroke-width="1.05" />
<line x1="485.35" y1="188.10" x2="495.55" y2="188.10" stroke="#000" stroke-width="1.05" />
<line x1="812.20" y1="188.10" x2="802.00" y2="188.10" stroke="#000" stroke-width="1.05" />
<line x1="485.35" y1="195.42" x2="490.55" y2="195.42" stroke="#000" stroke-width="1.05" />
<line x1="812.20" y1="195.42" x2="807.00" y2="195.42" stroke="#000" stroke-width="1.05" />
<line x1="485.35" y1="202.74" x2="490.55" y2="202.74" stroke="#000" stroke-width="1.05" />
<line x1="812.20" y1="202.74" x2="807.00" y2="202.74" stroke="#000" stroke-width="1.05" />
<text transform="translate(526.72,223.25) scale(1.196,1.0)" font-size="14.8">−</text>
<text transform="translate(538.07,222.85) scale(1.112,1.0)" font-size="14.8">5</text>
<text transform="translate(547.48,222.85) scale(1.117,1.0)" font-size="14.8">0</text>
<text transform="translate(556.93,222.85) scale(1.117,1.0)" font-size="14.8">0</text>
<text transform="translate(644.08,222.85) scale(1.117,1.0)" font-size="14.8">0</text>
<text transform="translate(736.78,222.85) scale(1.112,1.0)" font-size="14.8">5</text>
<text transform="translate(746.20,222.85) scale(1.117,1.0)" font-size="14.8">0</text>
<text transform="translate(755.65,222.85) scale(1.117,1.0)" font-size="14.8">0</text>
<text transform="translate(454.85,10.65) scale(1.196,1.0)" font-size="14.8">−</text>
<text transform="translate(466.15,10.25) scale(1.167,1.0)" font-size="14.8">4</text>
<text transform="translate(455.45,47.25) scale(1.196,1.0)" font-size="14.8">−</text>
<text transform="translate(466.79,46.85) scale(1.112,1.0)" font-size="14.8">5</text>
<text transform="translate(455.50,83.85) scale(1.196,1.0)" font-size="14.8">−</text>
<text transform="translate(466.59,83.45) scale(1.142,1.0)" font-size="14.8">6</text>
<text transform="translate(455.58,120.45) scale(1.196,1.0)" font-size="14.8">−</text>
<text transform="translate(466.90,120.05) scale(1.115,1.0)" font-size="14.8">7</text>
<text transform="translate(455.40,157.05) scale(1.196,1.0)" font-size="14.8">−</text>
<text transform="translate(466.62,156.65) scale(1.138,1.0)" font-size="14.8">8</text>
<text transform="translate(455.50,193.65) scale(1.196,1.0)" font-size="14.8">−</text>
<text transform="translate(466.66,193.25) scale(1.141,1.0)" font-size="14.8">9</text>
<text transform="translate(625.41,243.60) scale(0.842,1.0)" font-size="15.4">Z</text>
<text transform="translate(642.48,243.60) scale(0.833,1.15)" font-size="15.4">(</text>
<text transform="translate(648.59,243.60) scale(0.996,1.0)" font-size="15.4">p</text>
<text transform="translate(657.53,243.60) scale(0.979,1.0)" font-size="15.4">c</text>
<text transform="translate(667.80,243.60) scale(0.882,1.15)" font-size="15.4">)</text>
<g transform="translate(442.55,104.25) rotate(-90)">
<text transform="translate(-18.10,0.00) scale(1.169,1.0)" font-size="14.6">l</text>
<text transform="translate(-13.59,0.00) scale(0.919,1.0)" font-size="14.6">n</text>
<text transform="translate(-4.60,0.00) scale(0.878,1.15)" font-size="14.6">(</text>
<text transform="translate(1.84,0.00) scale(0.840,1.0)" font-size="16.4" font-style="italic" stroke="#000" stroke-width="0.5">ρ</text>
<text transform="translate(11.32,0.00) scale(0.930,1.15)" font-size="14.6">)</text>
</g>
<text transform="translate(85.11,37.60) scale(0.859,1.0)" font-size="14.8">R</text>
<text transform="translate(96.30,37.60) scale(1.113,1.0)" font-size="14.8">=</text>
<text transform="translate(107.37,37.60) scale(1.138,1.0)" font-size="14.8">8</text>
<text transform="translate(124.99,37.60) scale(1.012,1.0)" font-size="14.8">k</text>
<text transform="translate(133.20,37.60) scale(1.052,1.0)" font-size="14.8">p</text>
<text transform="translate(142.24,37.60) scale(1.050,1.0)" font-size="14.8">c</text>
<text transform="translate(260.43,31.60) scale(1.162,1.0)" font-size="14.8">r</text>
<text transform="translate(267.45,32.00) scale(1.196,1.0)" font-size="14.8">−</text>
<text transform="translate(278.78,31.60) scale(1.307,1.0)" font-size="14.8">i</text>
<text transform="translate(284.14,31.60) scale(1.154,1.0)" font-size="14.8">=</text>
<path transform="translate(297.80,21.24)" d="M2.55,0 L3.80,0 L3.80,10.36 L2.55,10.36 L2.55,2.95 L0,2.95 L0,2.02 Q2.17,1.76 2.80,0 Z" fill="#000"/>
<text transform="translate(304.39,31.60) scale(1.242,1.0)" font-size="14.8">.</text>
<text transform="translate(310.09,31.60) scale(1.112,1.0)" font-size="14.8">3</text>
<text transform="translate(319.15,31.60) scale(1.117,1.0)" font-size="14.8">0</text>
<text transform="translate(330.15,32.00) scale(1.196,1.0)" font-size="14.8">−</text>
<path transform="translate(344.10,21.24)" d="M2.55,0 L3.80,0 L3.80,10.36 L2.55,10.36 L2.55,2.95 L0,2.95 L0,2.02 Q2.17,1.76 2.80,0 Z" fill="#000"/>
<text transform="translate(350.69,31.60) scale(1.242,1.0)" font-size="14.8">.</text>
<text transform="translate(356.35,31.60) scale(1.167,1.0)" font-size="14.8">4</text>
<text transform="translate(365.45,31.60) scale(1.117,1.0)" font-size="14.8">0</text>
<path transform="translate(297.80,35.94)" d="M2.55,0 L3.80,0 L3.80,10.36 L2.55,10.36 L2.55,2.95 L0,2.95 L0,2.02 Q2.17,1.76 2.80,0 Z" fill="#000"/>
<text transform="translate(304.39,46.30) scale(1.242,1.0)" font-size="14.8">.</text>
<text transform="translate(310.05,46.30) scale(1.117,1.0)" font-size="14.8">0</text>
<text transform="translate(319.15,46.30) scale(1.117,1.0)" font-size="14.8">0</text>
<text transform="translate(330.15,46.70) scale(1.196,1.0)" font-size="14.8">−</text>
<path transform="translate(344.10,35.94)" d="M2.55,0 L3.80,0 L3.80,10.36 L2.55,10.36 L2.55,2.95 L0,2.95 L0,2.02 Q2.17,1.76 2.80,0 Z" fill="#000"/>
<text transform="translate(350.69,46.30) scale(1.242,1.0)" font-size="14.8">.</text>
<path transform="translate(359.00,35.94)" d="M2.55,0 L3.80,0 L3.80,10.36 L2.55,10.36 L2.55,2.95 L0,2.95 L0,2.02 Q2.17,1.76 2.80,0 Z" fill="#000"/>
<text transform="translate(365.45,46.30) scale(1.117,1.0)" font-size="14.8">0</text>
<text transform="translate(295.15,60.90) scale(1.117,1.0)" font-size="14.8">0</text>
<text transform="translate(304.39,60.90) scale(1.242,1.0)" font-size="14.8">.</text>
<text transform="translate(310.07,60.90) scale(1.115,1.0)" font-size="14.8">7</text>
<text transform="translate(319.15,60.90) scale(1.117,1.0)" font-size="14.8">0</text>
<text transform="translate(330.15,61.30) scale(1.196,1.0)" font-size="14.8">−</text>
<text transform="translate(341.45,60.90) scale(1.117,1.0)" font-size="14.8">0</text>
<text transform="translate(350.69,60.90) scale(1.242,1.0)" font-size="14.8">.</text>
<text transform="translate(356.27,60.90) scale(1.138,1.0)" font-size="14.8">8</text>
<text transform="translate(365.45,60.90) scale(1.117,1.0)" font-size="14.8">0</text>
<text transform="translate(295.15,75.50) scale(1.117,1.0)" font-size="14.8">0</text>
<text transform="translate(304.39,75.50) scale(1.242,1.0)" font-size="14.8">.</text>
<text transform="translate(310.09,75.50) scale(1.112,1.0)" font-size="14.8">5</text>
<text transform="translate(319.19,75.50) scale(1.112,1.0)" font-size="14.8">5</text>
<text transform="translate(330.15,75.90) scale(1.196,1.0)" font-size="14.8">−</text>
<text transform="translate(341.45,75.50) scale(1.117,1.0)" font-size="14.8">0</text>
<text transform="translate(350.69,75.50) scale(1.242,1.0)" font-size="14.8">.</text>
<text transform="translate(356.14,75.50) scale(1.142,1.0)" font-size="14.8">6</text>
<text transform="translate(365.45,75.50) scale(1.117,1.0)" font-size="14.8">0</text>
<text transform="translate(505.86,37.60) scale(0.859,1.0)" font-size="14.8">R</text>
<text transform="translate(517.05,37.60) scale(1.113,1.0)" font-size="14.8">=</text>
<text transform="translate(528.12,37.60) scale(1.138,1.0)" font-size="14.8">8</text>
<text transform="translate(545.74,37.60) scale(1.012,1.0)" font-size="14.8">k</text>
<text transform="translate(553.95,37.60) scale(1.052,1.0)" font-size="14.8">p</text>
<text transform="translate(562.99,37.60) scale(1.050,1.0)" font-size="14.8">c</text>
<text transform="translate(681.18,31.60) scale(1.162,1.0)" font-size="14.8">r</text>
<text transform="translate(688.20,32.00) scale(1.196,1.0)" font-size="14.8">−</text>
<text transform="translate(699.53,31.60) scale(1.307,1.0)" font-size="14.8">i</text>
<text transform="translate(704.89,31.60) scale(1.154,1.0)" font-size="14.8">=</text>
<path transform="translate(718.55,21.24)" d="M2.55,0 L3.80,0 L3.80,10.36 L2.55,10.36 L2.55,2.95 L0,2.95 L0,2.02 Q2.17,1.76 2.80,0 Z" fill="#000"/>
<text transform="translate(725.14,31.60) scale(1.242,1.0)" font-size="14.8">.</text>
<text transform="translate(730.84,31.60) scale(1.112,1.0)" font-size="14.8">3</text>
<text transform="translate(739.90,31.60) scale(1.117,1.0)" font-size="14.8">0</text>
<text transform="translate(750.90,32.00) scale(1.196,1.0)" font-size="14.8">−</text>
<path transform="translate(764.85,21.24)" d="M2.55,0 L3.80,0 L3.80,10.36 L2.55,10.36 L2.55,2.95 L0,2.95 L0,2.02 Q2.17,1.76 2.80,0 Z" fill="#000"/>
<text transform="translate(771.44,31.60) scale(1.242,1.0)" font-size="14.8">.</text>
<text transform="translate(777.10,31.60) scale(1.167,1.0)" font-size="14.8">4</text>
<text transform="translate(786.20,31.60) scale(1.117,1.0)" font-size="14.8">0</text>
<path transform="translate(718.55,35.94)" d="M2.55,0 L3.80,0 L3.80,10.36 L2.55,10.36 L2.55,2.95 L0,2.95 L0,2.02 Q2.17,1.76 2.80,0 Z" fill="#000"/>
<text transform="translate(725.14,46.30) scale(1.242,1.0)" font-size="14.8">.</text>
<text transform="translate(730.80,46.30) scale(1.117,1.0)" font-size="14.8">0</text>
<text transform="translate(739.90,46.30) scale(1.117,1.0)" font-size="14.8">0</text>
<text transform="translate(750.90,46.70) scale(1.196,1.0)" font-size="14.8">−</text>
<path transform="translate(764.85,35.94)" d="M2.55,0 L3.80,0 L3.80,10.36 L2.55,10.36 L2.55,2.95 L0,2.95 L0,2.02 Q2.17,1.76 2.80,0 Z" fill="#000"/>
<text transform="translate(771.44,46.30) scale(1.242,1.0)" font-size="14.8">.</text>
<path transform="translate(779.75,35.94)" d="M2.55,0 L3.80,0 L3.80,10.36 L2.55,10.36 L2.55,2.95 L0,2.95 L0,2.02 Q2.17,1.76 2.80,0 Z" fill="#000"/>
<text transform="translate(786.20,46.30) scale(1.117,1.0)" font-size="14.8">0</text>
<text transform="translate(715.90,60.90) scale(1.117,1.0)" font-size="14.8">0</text>
<text transform="translate(725.14,60.90) scale(1.242,1.0)" font-size="14.8">.</text>
<text transform="translate(730.82,60.90) scale(1.115,1.0)" font-size="14.8">7</text>
<text transform="translate(739.90,60.90) scale(1.117,1.0)" font-size="14.8">0</text>
<text transform="translate(750.90,61.30) scale(1.196,1.0)" font-size="14.8">−</text>
<text transform="translate(762.20,60.90) scale(1.117,1.0)" font-size="14.8">0</text>
<text transform="translate(771.44,60.90) scale(1.242,1.0)" font-size="14.8">.</text>
<text transform="translate(777.02,60.90) scale(1.138,1.0)" font-size="14.8">8</text>
<text transform="translate(786.20,60.90) scale(1.117,1.0)" font-size="14.8">0</text>
<text transform="translate(715.90,75.50) scale(1.117,1.0)" font-size="14.8">0</text>
<text transform="translate(725.14,75.50) scale(1.242,1.0)" font-size="14.8">.</text>
<text transform="translate(730.84,75.50) scale(1.112,1.0)" font-size="14.8">5</text>
<text transform="translate(739.94,75.50) scale(1.112,1.0)" font-size="14.8">5</text>
<text transform="translate(750.90,75.90) scale(1.196,1.0)" font-size="14.8">−</text>
<text transform="translate(762.20,75.50) scale(1.117,1.0)" font-size="14.8">0</text>
<text transform="translate(771.44,75.50) scale(1.242,1.0)" font-size="14.8">.</text>
<text transform="translate(776.89,75.50) scale(1.142,1.0)" font-size="14.8">6</text>
<text transform="translate(786.20,75.50) scale(1.117,1.0)" font-size="14.8">0</text>
<rect x="64.55" y="279.20" width="326.90" height="198.25" fill="none" stroke="#000" stroke-width="1.4"/>
<line x1="84.98" y1="477.45" x2="84.98" y2="472.25" stroke="#000" stroke-width="1.05" />
<line x1="84.98" y1="279.20" x2="84.98" y2="284.40" stroke="#000" stroke-width="1.05" />
<line x1="105.41" y1="477.45" x2="105.41" y2="472.25" stroke="#000" stroke-width="1.05" />
<line x1="105.41" y1="279.20" x2="105.41" y2="284.40" stroke="#000" stroke-width="1.05" />
<line x1="125.84" y1="477.45" x2="125.84" y2="472.25" stroke="#000" stroke-width="1.05" />
<line x1="125.84" y1="279.20" x2="125.84" y2="284.40" stroke="#000" stroke-width="1.05" />
<line x1="146.27" y1="477.45" x2="146.27" y2="467.25" stroke="#000" stroke-width="1.05" />
<line x1="146.27" y1="279.20" x2="146.27" y2="289.40" stroke="#000" stroke-width="1.05" />
<line x1="166.71" y1="477.45" x2="166.71" y2="472.25" stroke="#000" stroke-width="1.05" />
<line x1="166.71" y1="279.20" x2="166.71" y2="284.40" stroke="#000" stroke-width="1.05" />
<line x1="187.14" y1="477.45" x2="187.14" y2="472.25" stroke="#000" stroke-width="1.05" />
<line x1="187.14" y1="279.20" x2="187.14" y2="284.40" stroke="#000" stroke-width="1.05" />
<line x1="207.57" y1="477.45" x2="207.57" y2="472.25" stroke="#000" stroke-width="1.05" />
<line x1="207.57" y1="279.20" x2="207.57" y2="284.40" stroke="#000" stroke-width="1.05" />
<line x1="228.00" y1="477.45" x2="228.00" y2="467.25" stroke="#000" stroke-width="1.05" />
<line x1="228.00" y1="279.20" x2="228.00" y2="289.40" stroke="#000" stroke-width="1.05" />
<line x1="248.43" y1="477.45" x2="248.43" y2="472.25" stroke="#000" stroke-width="1.05" />
<line x1="248.43" y1="279.20" x2="248.43" y2="284.40" stroke="#000" stroke-width="1.05" />
<line x1="268.86" y1="477.45" x2="268.86" y2="472.25" stroke="#000" stroke-width="1.05" />
<line x1="268.86" y1="279.20" x2="268.86" y2="284.40" stroke="#000" stroke-width="1.05" />
<line x1="289.29" y1="477.45" x2="289.29" y2="472.25" stroke="#000" stroke-width="1.05" />
<line x1="289.29" y1="279.20" x2="289.29" y2="284.40" stroke="#000" stroke-width="1.05" />
<line x1="309.72" y1="477.45" x2="309.72" y2="467.25" stroke="#000" stroke-width="1.05" />
<line x1="309.72" y1="279.20" x2="309.72" y2="289.40" stroke="#000" stroke-width="1.05" />
<line x1="330.16" y1="477.45" x2="330.16" y2="472.25" stroke="#000" stroke-width="1.05" />
<line x1="330.16" y1="279.20" x2="330.16" y2="284.40" stroke="#000" stroke-width="1.05" />
<line x1="350.59" y1="477.45" x2="350.59" y2="472.25" stroke="#000" stroke-width="1.05" />
<line x1="350.59" y1="279.20" x2="350.59" y2="284.40" stroke="#000" stroke-width="1.05" />
<line x1="371.02" y1="477.45" x2="371.02" y2="472.25" stroke="#000" stroke-width="1.05" />
<line x1="371.02" y1="279.20" x2="371.02" y2="284.40" stroke="#000" stroke-width="1.05" />
<line x1="64.55" y1="288.20" x2="69.75" y2="288.20" stroke="#000" stroke-width="1.05" />
<line x1="391.45" y1="288.20" x2="386.25" y2="288.20" stroke="#000" stroke-width="1.05" />
<line x1="64.55" y1="297.20" x2="69.75" y2="297.20" stroke="#000" stroke-width="1.05" />
<line x1="391.45" y1="297.20" x2="386.25" y2="297.20" stroke="#000" stroke-width="1.05" />
<line x1="64.55" y1="306.20" x2="69.75" y2="306.20" stroke="#000" stroke-width="1.05" />
<line x1="391.45" y1="306.20" x2="386.25" y2="306.20" stroke="#000" stroke-width="1.05" />
<line x1="64.55" y1="315.20" x2="74.75" y2="315.20" stroke="#000" stroke-width="1.05" />
<line x1="391.45" y1="315.20" x2="381.25" y2="315.20" stroke="#000" stroke-width="1.05" />
<line x1="64.55" y1="324.20" x2="69.75" y2="324.20" stroke="#000" stroke-width="1.05" />
<line x1="391.45" y1="324.20" x2="386.25" y2="324.20" stroke="#000" stroke-width="1.05" />
<line x1="64.55" y1="333.20" x2="69.75" y2="333.20" stroke="#000" stroke-width="1.05" />
<line x1="391.45" y1="333.20" x2="386.25" y2="333.20" stroke="#000" stroke-width="1.05" />
<line x1="64.55" y1="342.20" x2="69.75" y2="342.20" stroke="#000" stroke-width="1.05" />
<line x1="391.45" y1="342.20" x2="386.25" y2="342.20" stroke="#000" stroke-width="1.05" />
<line x1="64.55" y1="351.20" x2="74.75" y2="351.20" stroke="#000" stroke-width="1.05" />
<line x1="391.45" y1="351.20" x2="381.25" y2="351.20" stroke="#000" stroke-width="1.05" />
<line x1="64.55" y1="360.20" x2="69.75" y2="360.20" stroke="#000" stroke-width="1.05" />
<line x1="391.45" y1="360.20" x2="386.25" y2="360.20" stroke="#000" stroke-width="1.05" />
<line x1="64.55" y1="369.20" x2="69.75" y2="369.20" stroke="#000" stroke-width="1.05" />
<line x1="391.45" y1="369.20" x2="386.25" y2="369.20" stroke="#000" stroke-width="1.05" />
<line x1="64.55" y1="378.20" x2="69.75" y2="378.20" stroke="#000" stroke-width="1.05" />
<line x1="391.45" y1="378.20" x2="386.25" y2="378.20" stroke="#000" stroke-width="1.05" />
<line x1="64.55" y1="387.20" x2="74.75" y2="387.20" stroke="#000" stroke-width="1.05" />
<line x1="391.45" y1="387.20" x2="381.25" y2="387.20" stroke="#000" stroke-width="1.05" />
<line x1="64.55" y1="396.20" x2="69.75" y2="396.20" stroke="#000" stroke-width="1.05" />
<line x1="391.45" y1="396.20" x2="386.25" y2="396.20" stroke="#000" stroke-width="1.05" />
<line x1="64.55" y1="405.20" x2="69.75" y2="405.20" stroke="#000" stroke-width="1.05" />
<line x1="391.45" y1="405.20" x2="386.25" y2="405.20" stroke="#000" stroke-width="1.05" />
<line x1="64.55" y1="414.20" x2="69.75" y2="414.20" stroke="#000" stroke-width="1.05" />
<line x1="391.45" y1="414.20" x2="386.25" y2="414.20" stroke="#000" stroke-width="1.05" />
<line x1="64.55" y1="423.20" x2="74.75" y2="423.20" stroke="#000" stroke-width="1.05" />
<line x1="391.45" y1="423.20" x2="381.25" y2="423.20" stroke="#000" stroke-width="1.05" />
<line x1="64.55" y1="432.20" x2="69.75" y2="432.20" stroke="#000" stroke-width="1.05" />
<line x1="391.45" y1="432.20" x2="386.25" y2="432.20" stroke="#000" stroke-width="1.05" />
<line x1="64.55" y1="441.20" x2="69.75" y2="441.20" stroke="#000" stroke-width="1.05" />
<line x1="391.45" y1="441.20" x2="386.25" y2="441.20" stroke="#000" stroke-width="1.05" />
<line x1="64.55" y1="450.20" x2="69.75" y2="450.20" stroke="#000" stroke-width="1.05" />
<line x1="391.45" y1="450.20" x2="386.25" y2="450.20" stroke="#000" stroke-width="1.05" />
<line x1="64.55" y1="459.20" x2="74.75" y2="459.20" stroke="#000" stroke-width="1.05" />
<line x1="391.45" y1="459.20" x2="381.25" y2="459.20" stroke="#000" stroke-width="1.05" />
<line x1="64.55" y1="468.20" x2="69.75" y2="468.20" stroke="#000" stroke-width="1.05" />
<line x1="391.45" y1="468.20" x2="386.25" y2="468.20" stroke="#000" stroke-width="1.05" />
<text transform="translate(39.91,497.30) scale(1.196,1.0)" font-size="14.8">−</text>
<text transform="translate(51.22,496.90) scale(1.167,1.0)" font-size="14.8">4</text>
<text transform="translate(60.67,496.90) scale(1.117,1.0)" font-size="14.8">0</text>
<text transform="translate(70.12,496.90) scale(1.117,1.0)" font-size="14.8">0</text>
<text transform="translate(79.57,496.90) scale(1.117,1.0)" font-size="14.8">0</text>
<text transform="translate(121.64,497.30) scale(1.196,1.0)" font-size="14.8">−</text>
<text transform="translate(133.05,496.90) scale(1.068,1.0)" font-size="14.8">2</text>
<text transform="translate(142.39,496.90) scale(1.117,1.0)" font-size="14.8">0</text>
<text transform="translate(151.84,496.90) scale(1.117,1.0)" font-size="14.8">0</text>
<text transform="translate(161.29,496.90) scale(1.117,1.0)" font-size="14.8">0</text>
<text transform="translate(223.30,496.90) scale(1.117,1.0)" font-size="14.8">0</text>
<text transform="translate(290.83,496.90) scale(1.068,1.0)" font-size="14.8">2</text>
<text transform="translate(300.18,496.90) scale(1.117,1.0)" font-size="14.8">0</text>
<text transform="translate(309.63,496.90) scale(1.117,1.0)" font-size="14.8">0</text>
<text transform="translate(319.08,496.90) scale(1.117,1.0)" font-size="14.8">0</text>
<text transform="translate(372.70,496.90) scale(1.167,1.0)" font-size="14.8">4</text>
<text transform="translate(382.15,496.90) scale(1.117,1.0)" font-size="14.8">0</text>
<text transform="translate(391.60,496.90) scale(1.117,1.0)" font-size="14.8">0</text>
<text transform="translate(401.05,496.90) scale(1.117,1.0)" font-size="14.8">0</text>
<text transform="translate(34.05,284.75) scale(1.196,1.0)" font-size="14.8">−</text>
<text transform="translate(45.35,284.35) scale(1.167,1.0)" font-size="14.8">4</text>
<text transform="translate(34.70,320.75) scale(1.196,1.0)" font-size="14.8">−</text>
<text transform="translate(45.79,320.35) scale(1.142,1.0)" font-size="14.8">6</text>
<text transform="translate(34.60,356.75) scale(1.196,1.0)" font-size="14.8">−</text>
<text transform="translate(45.82,356.35) scale(1.138,1.0)" font-size="14.8">8</text>
<text transform="translate(25.15,392.75) scale(1.196,1.0)" font-size="14.8">−</text>
<path transform="translate(39.10,381.99)" d="M2.55,0 L3.80,0 L3.80,10.36 L2.55,10.36 L2.55,2.95 L0,2.95 L0,2.02 Q2.17,1.76 2.80,0 Z" fill="#000"/>
<text transform="translate(45.90,392.35) scale(1.117,1.0)" font-size="14.8">0</text>
<text transform="translate(25.60,428.75) scale(1.196,1.0)" font-size="14.8">−</text>
<path transform="translate(39.55,417.99)" d="M2.55,0 L3.80,0 L3.80,10.36 L2.55,10.36 L2.55,2.95 L0,2.95 L0,2.02 Q2.17,1.76 2.80,0 Z" fill="#000"/>
<text transform="translate(46.46,428.35) scale(1.068,1.0)" font-size="14.8">2</text>
<text transform="translate(24.60,464.75) scale(1.196,1.0)" font-size="14.8">−</text>
<path transform="translate(38.55,453.99)" d="M2.55,0 L3.80,0 L3.80,10.36 L2.55,10.36 L2.55,2.95 L0,2.95 L0,2.02 Q2.17,1.76 2.80,0 Z" fill="#000"/>
<text transform="translate(45.35,464.35) scale(1.167,1.0)" font-size="14.8">4</text>
<text transform="translate(204.64,517.65) scale(0.842,1.0)" font-size="15.4">Z</text>
<text transform="translate(221.70,517.65) scale(0.833,1.15)" font-size="15.4">(</text>
<text transform="translate(227.81,517.65) scale(0.996,1.0)" font-size="15.4">p</text>
<text transform="translate(236.76,517.65) scale(0.979,1.0)" font-size="15.4">c</text>
<text transform="translate(247.02,517.65) scale(0.882,1.15)" font-size="15.4">)</text>
<g transform="translate(12.45,378.32) rotate(-90)">
<text transform="translate(-18.10,0.00) scale(1.169,1.0)" font-size="14.6">l</text>
<text transform="translate(-13.59,0.00) scale(0.919,1.0)" font-size="14.6">n</text>
<text transform="translate(-4.60,0.00) scale(0.878,1.15)" font-size="14.6">(</text>
<text transform="translate(1.84,0.00) scale(0.840,1.0)" font-size="16.4" font-style="italic" stroke="#000" stroke-width="0.5">ρ</text>
<text transform="translate(11.32,0.00) scale(0.930,1.15)" font-size="14.6">)</text>
</g>
<text transform="translate(256.36,311.50) scale(1.162,1.0)" font-size="14.8">r</text>
<text transform="translate(263.38,311.90) scale(1.196,1.0)" font-size="14.8">−</text>
<text transform="translate(274.71,311.50) scale(1.307,1.0)" font-size="14.8">i</text>
<text transform="translate(280.07,311.50) scale(1.154,1.0)" font-size="14.8">=</text>
<text transform="translate(291.08,311.50) scale(1.117,1.0)" font-size="14.8">0</text>
<text transform="translate(300.32,311.50) scale(1.242,1.0)" font-size="14.8">.</text>
<text transform="translate(306.00,311.50) scale(1.115,1.0)" font-size="14.8">7</text>
<text transform="translate(315.08,311.50) scale(1.117,1.0)" font-size="14.8">0</text>
<text transform="translate(326.08,311.90) scale(1.196,1.0)" font-size="14.8">−</text>
<text transform="translate(337.38,311.50) scale(1.117,1.0)" font-size="14.8">0</text>
<text transform="translate(346.62,311.50) scale(1.242,1.0)" font-size="14.8">.</text>
<text transform="translate(352.20,311.50) scale(1.138,1.0)" font-size="14.8">8</text>
<text transform="translate(361.38,311.50) scale(1.117,1.0)" font-size="14.8">0</text>
<rect x="485.30" y="279.20" width="326.85" height="198.25" fill="none" stroke="#000" stroke-width="1.4"/>
<line x1="505.73" y1="477.45" x2="505.73" y2="472.25" stroke="#000" stroke-width="1.05" />
<line x1="505.73" y1="279.20" x2="505.73" y2="284.40" stroke="#000" stroke-width="1.05" />
<line x1="526.16" y1="477.45" x2="526.16" y2="472.25" stroke="#000" stroke-width="1.05" />
<line x1="526.16" y1="279.20" x2="526.16" y2="284.40" stroke="#000" stroke-width="1.05" />
<line x1="546.58" y1="477.45" x2="546.58" y2="472.25" stroke="#000" stroke-width="1.05" />
<line x1="546.58" y1="279.20" x2="546.58" y2="284.40" stroke="#000" stroke-width="1.05" />
<line x1="567.01" y1="477.45" x2="567.01" y2="467.25" stroke="#000" stroke-width="1.05" />
<line x1="567.01" y1="279.20" x2="567.01" y2="289.40" stroke="#000" stroke-width="1.05" />
<line x1="587.44" y1="477.45" x2="587.44" y2="472.25" stroke="#000" stroke-width="1.05" />
<line x1="587.44" y1="279.20" x2="587.44" y2="284.40" stroke="#000" stroke-width="1.05" />
<line x1="607.87" y1="477.45" x2="607.87" y2="472.25" stroke="#000" stroke-width="1.05" />
<line x1="607.87" y1="279.20" x2="607.87" y2="284.40" stroke="#000" stroke-width="1.05" />
<line x1="628.30" y1="477.45" x2="628.30" y2="472.25" stroke="#000" stroke-width="1.05" />
<line x1="628.30" y1="279.20" x2="628.30" y2="284.40" stroke="#000" stroke-width="1.05" />
<line x1="648.73" y1="477.45" x2="648.73" y2="467.25" stroke="#000" stroke-width="1.05" />
<line x1="648.73" y1="279.20" x2="648.73" y2="289.40" stroke="#000" stroke-width="1.05" />
<line x1="669.15" y1="477.45" x2="669.15" y2="472.25" stroke="#000" stroke-width="1.05" />
<line x1="669.15" y1="279.20" x2="669.15" y2="284.40" stroke="#000" stroke-width="1.05" />
<line x1="689.58" y1="477.45" x2="689.58" y2="472.25" stroke="#000" stroke-width="1.05" />
<line x1="689.58" y1="279.20" x2="689.58" y2="284.40" stroke="#000" stroke-width="1.05" />
<line x1="710.01" y1="477.45" x2="710.01" y2="472.25" stroke="#000" stroke-width="1.05" />
<line x1="710.01" y1="279.20" x2="710.01" y2="284.40" stroke="#000" stroke-width="1.05" />
<line x1="730.44" y1="477.45" x2="730.44" y2="467.25" stroke="#000" stroke-width="1.05" />
<line x1="730.44" y1="279.20" x2="730.44" y2="289.40" stroke="#000" stroke-width="1.05" />
<line x1="750.87" y1="477.45" x2="750.87" y2="472.25" stroke="#000" stroke-width="1.05" />
<line x1="750.87" y1="279.20" x2="750.87" y2="284.40" stroke="#000" stroke-width="1.05" />
<line x1="771.29" y1="477.45" x2="771.29" y2="472.25" stroke="#000" stroke-width="1.05" />
<line x1="771.29" y1="279.20" x2="771.29" y2="284.40" stroke="#000" stroke-width="1.05" />
<line x1="791.72" y1="477.45" x2="791.72" y2="472.25" stroke="#000" stroke-width="1.05" />
<line x1="791.72" y1="279.20" x2="791.72" y2="284.40" stroke="#000" stroke-width="1.05" />
<line x1="485.30" y1="288.20" x2="490.50" y2="288.20" stroke="#000" stroke-width="1.05" />
<line x1="812.15" y1="288.20" x2="806.95" y2="288.20" stroke="#000" stroke-width="1.05" />
<line x1="485.30" y1="297.20" x2="490.50" y2="297.20" stroke="#000" stroke-width="1.05" />
<line x1="812.15" y1="297.20" x2="806.95" y2="297.20" stroke="#000" stroke-width="1.05" />
<line x1="485.30" y1="306.20" x2="490.50" y2="306.20" stroke="#000" stroke-width="1.05" />
<line x1="812.15" y1="306.20" x2="806.95" y2="306.20" stroke="#000" stroke-width="1.05" />
<line x1="485.30" y1="315.20" x2="495.50" y2="315.20" stroke="#000" stroke-width="1.05" />
<line x1="812.15" y1="315.20" x2="801.95" y2="315.20" stroke="#000" stroke-width="1.05" />
<line x1="485.30" y1="324.20" x2="490.50" y2="324.20" stroke="#000" stroke-width="1.05" />
<line x1="812.15" y1="324.20" x2="806.95" y2="324.20" stroke="#000" stroke-width="1.05" />
<line x1="485.30" y1="333.20" x2="490.50" y2="333.20" stroke="#000" stroke-width="1.05" />
<line x1="812.15" y1="333.20" x2="806.95" y2="333.20" stroke="#000" stroke-width="1.05" />
<line x1="485.30" y1="342.20" x2="490.50" y2="342.20" stroke="#000" stroke-width="1.05" />
<line x1="812.15" y1="342.20" x2="806.95" y2="342.20" stroke="#000" stroke-width="1.05" />
<line x1="485.30" y1="351.20" x2="495.50" y2="351.20" stroke="#000" stroke-width="1.05" />
<line x1="812.15" y1="351.20" x2="801.95" y2="351.20" stroke="#000" stroke-width="1.05" />
<line x1="485.30" y1="360.20" x2="490.50" y2="360.20" stroke="#000" stroke-width="1.05" />
<line x1="812.15" y1="360.20" x2="806.95" y2="360.20" stroke="#000" stroke-width="1.05" />
<line x1="485.30" y1="369.20" x2="490.50" y2="369.20" stroke="#000" stroke-width="1.05" />
<line x1="812.15" y1="369.20" x2="806.95" y2="369.20" stroke="#000" stroke-width="1.05" />
<line x1="485.30" y1="378.20" x2="490.50" y2="378.20" stroke="#000" stroke-width="1.05" />
<line x1="812.15" y1="378.20" x2="806.95" y2="378.20" stroke="#000" stroke-width="1.05" />
<line x1="485.30" y1="387.20" x2="495.50" y2="387.20" stroke="#000" stroke-width="1.05" />
<line x1="812.15" y1="387.20" x2="801.95" y2="387.20" stroke="#000" stroke-width="1.05" />
<line x1="485.30" y1="396.20" x2="490.50" y2="396.20" stroke="#000" stroke-width="1.05" />
<line x1="812.15" y1="396.20" x2="806.95" y2="396.20" stroke="#000" stroke-width="1.05" />
<line x1="485.30" y1="405.20" x2="490.50" y2="405.20" stroke="#000" stroke-width="1.05" />
<line x1="812.15" y1="405.20" x2="806.95" y2="405.20" stroke="#000" stroke-width="1.05" />
<line x1="485.30" y1="414.20" x2="490.50" y2="414.20" stroke="#000" stroke-width="1.05" />
<line x1="812.15" y1="414.20" x2="806.95" y2="414.20" stroke="#000" stroke-width="1.05" />
<line x1="485.30" y1="423.20" x2="495.50" y2="423.20" stroke="#000" stroke-width="1.05" />
<line x1="812.15" y1="423.20" x2="801.95" y2="423.20" stroke="#000" stroke-width="1.05" />
<line x1="485.30" y1="432.20" x2="490.50" y2="432.20" stroke="#000" stroke-width="1.05" />
<line x1="812.15" y1="432.20" x2="806.95" y2="432.20" stroke="#000" stroke-width="1.05" />
<line x1="485.30" y1="441.20" x2="490.50" y2="441.20" stroke="#000" stroke-width="1.05" />
<line x1="812.15" y1="441.20" x2="806.95" y2="441.20" stroke="#000" stroke-width="1.05" />
<line x1="485.30" y1="450.20" x2="490.50" y2="450.20" stroke="#000" stroke-width="1.05" />
<line x1="812.15" y1="450.20" x2="806.95" y2="450.20" stroke="#000" stroke-width="1.05" />
<line x1="485.30" y1="459.20" x2="495.50" y2="459.20" stroke="#000" stroke-width="1.05" />
<line x1="812.15" y1="459.20" x2="801.95" y2="459.20" stroke="#000" stroke-width="1.05" />
<line x1="485.30" y1="468.20" x2="490.50" y2="468.20" stroke="#000" stroke-width="1.05" />
<line x1="812.15" y1="468.20" x2="806.95" y2="468.20" stroke="#000" stroke-width="1.05" />
<text transform="translate(460.66,497.30) scale(1.196,1.0)" font-size="14.8">−</text>
<text transform="translate(471.97,496.90) scale(1.167,1.0)" font-size="14.8">4</text>
<text transform="translate(481.42,496.90) scale(1.117,1.0)" font-size="14.8">0</text>
<text transform="translate(490.87,496.90) scale(1.117,1.0)" font-size="14.8">0</text>
<text transform="translate(500.32,496.90) scale(1.117,1.0)" font-size="14.8">0</text>
<text transform="translate(542.37,497.30) scale(1.196,1.0)" font-size="14.8">−</text>
<text transform="translate(553.78,496.90) scale(1.068,1.0)" font-size="14.8">2</text>
<text transform="translate(563.13,496.90) scale(1.117,1.0)" font-size="14.8">0</text>
<text transform="translate(572.58,496.90) scale(1.117,1.0)" font-size="14.8">0</text>
<text transform="translate(582.03,496.90) scale(1.117,1.0)" font-size="14.8">0</text>
<text transform="translate(644.03,496.90) scale(1.117,1.0)" font-size="14.8">0</text>
<text transform="translate(711.54,496.90) scale(1.068,1.0)" font-size="14.8">2</text>
<text transform="translate(720.89,496.90) scale(1.117,1.0)" font-size="14.8">0</text>
<text transform="translate(730.34,496.90) scale(1.117,1.0)" font-size="14.8">0</text>
<text transform="translate(739.79,496.90) scale(1.117,1.0)" font-size="14.8">0</text>
<text transform="translate(793.40,496.90) scale(1.167,1.0)" font-size="14.8">4</text>
<text transform="translate(802.85,496.90) scale(1.117,1.0)" font-size="14.8">0</text>
<text transform="translate(812.30,496.90) scale(1.117,1.0)" font-size="14.8">0</text>
<text transform="translate(821.75,496.90) scale(1.117,1.0)" font-size="14.8">0</text>
<text transform="translate(454.80,284.75) scale(1.196,1.0)" font-size="14.8">−</text>
<text transform="translate(466.10,284.35) scale(1.167,1.0)" font-size="14.8">4</text>
<text transform="translate(455.45,320.75) scale(1.196,1.0)" font-size="14.8">−</text>
<text transform="translate(466.54,320.35) scale(1.142,1.0)" font-size="14.8">6</text>
<text transform="translate(455.35,356.75) scale(1.196,1.0)" font-size="14.8">−</text>
<text transform="translate(466.57,356.35) scale(1.138,1.0)" font-size="14.8">8</text>
<text transform="translate(445.90,392.75) scale(1.196,1.0)" font-size="14.8">−</text>
<path transform="translate(459.85,381.99)" d="M2.55,0 L3.80,0 L3.80,10.36 L2.55,10.36 L2.55,2.95 L0,2.95 L0,2.02 Q2.17,1.76 2.80,0 Z" fill="#000"/>
<text transform="translate(466.65,392.35) scale(1.117,1.0)" font-size="14.8">0</text>
<text transform="translate(446.35,428.75) scale(1.196,1.0)" font-size="14.8">−</text>
<path transform="translate(460.30,417.99)" d="M2.55,0 L3.80,0 L3.80,10.36 L2.55,10.36 L2.55,2.95 L0,2.95 L0,2.02 Q2.17,1.76 2.80,0 Z" fill="#000"/>
<text transform="translate(467.21,428.35) scale(1.068,1.0)" font-size="14.8">2</text>
<text transform="translate(445.35,464.75) scale(1.196,1.0)" font-size="14.8">−</text>
<path transform="translate(459.30,453.99)" d="M2.55,0 L3.80,0 L3.80,10.36 L2.55,10.36 L2.55,2.95 L0,2.95 L0,2.02 Q2.17,1.76 2.80,0 Z" fill="#000"/>
<text transform="translate(466.10,464.35) scale(1.167,1.0)" font-size="14.8">4</text>
<text transform="translate(625.36,517.65) scale(0.842,1.0)" font-size="15.4">Z</text>
<text transform="translate(642.43,517.65) scale(0.833,1.15)" font-size="15.4">(</text>
<text transform="translate(648.54,517.65) scale(0.996,1.0)" font-size="15.4">p</text>
<text transform="translate(657.48,517.65) scale(0.979,1.0)" font-size="15.4">c</text>
<text transform="translate(667.75,517.65) scale(0.882,1.15)" font-size="15.4">)</text>
<g transform="translate(433.20,378.32) rotate(-90)">
<text transform="translate(-18.10,0.00) scale(1.169,1.0)" font-size="14.6">l</text>
<text transform="translate(-13.59,0.00) scale(0.919,1.0)" font-size="14.6">n</text>
<text transform="translate(-4.60,0.00) scale(0.878,1.15)" font-size="14.6">(</text>
<text transform="translate(1.84,0.00) scale(0.840,1.0)" font-size="16.4" font-style="italic" stroke="#000" stroke-width="0.5">ρ</text>
<text transform="translate(11.32,0.00) scale(0.930,1.15)" font-size="14.6">)</text>
</g>
<text transform="translate(677.06,311.50) scale(1.162,1.0)" font-size="14.8">r</text>
<text transform="translate(684.08,311.90) scale(1.196,1.0)" font-size="14.8">−</text>
<text transform="translate(695.41,311.50) scale(1.307,1.0)" font-size="14.8">i</text>
<text transform="translate(700.77,311.50) scale(1.154,1.0)" font-size="14.8">=</text>
<text transform="translate(711.78,311.50) scale(1.117,1.0)" font-size="14.8">0</text>
<text transform="translate(721.02,311.50) scale(1.242,1.0)" font-size="14.8">.</text>
<text transform="translate(726.70,311.50) scale(1.115,1.0)" font-size="14.8">7</text>
<text transform="translate(735.78,311.50) scale(1.117,1.0)" font-size="14.8">0</text>
<text transform="translate(746.78,311.90) scale(1.196,1.0)" font-size="14.8">−</text>
<text transform="translate(758.08,311.50) scale(1.117,1.0)" font-size="14.8">0</text>
<text transform="translate(767.32,311.50) scale(1.242,1.0)" font-size="14.8">.</text>
<text transform="translate(772.90,311.50) scale(1.138,1.0)" font-size="14.8">8</text>
<text transform="translate(782.08,311.50) scale(1.117,1.0)" font-size="14.8">0</text>
</svg>
</body></html>
